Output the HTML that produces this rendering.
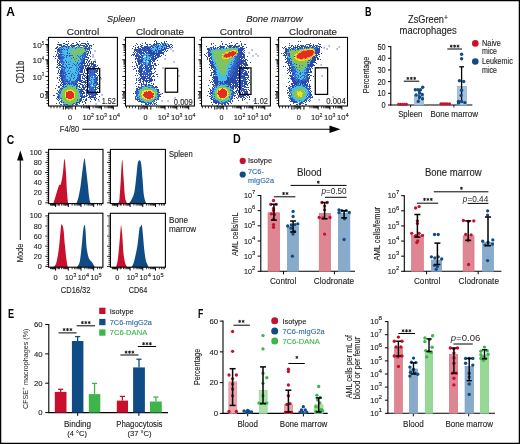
<!DOCTYPE html>
<html><head><meta charset="utf-8"><style>
html,body{margin:0;padding:0;background:#fff;}
body{width:520px;height:444px;overflow:hidden;}
svg{display:block;font-family:"Liberation Sans",sans-serif;}
</style></head><body>
<svg width="520" height="444" viewBox="0 0 520 444">
<rect x="0" y="0" width="520" height="444" fill="#fff"/>
<defs><filter id="soft" x="-5%" y="-5%" width="110%" height="110%"><feGaussianBlur stdDeviation="0.35"/></filter><filter id="f0" x="-40%" y="-40%" width="180%" height="180%" color-interpolation-filters="sRGB"><feGaussianBlur in="SourceAlpha" stdDeviation="2.0" result="B"/><feTurbulence type="fractalNoise" baseFrequency="1.1" numOctaves="1" seed="1" result="N"/><feColorMatrix in="N" type="matrix" values="0 0 0 0 0 0 0 0 0 0 0 0 0 0 0 2.9 0 0 0 -0.900" result="NA"/><feComposite in="B" in2="NA" operator="arithmetic" k1="0" k2="1.1" k3="-1" k4="0.49" result="S"/><feComponentTransfer in="S" result="M"><feFuncA type="discrete" tableValues="0 1"/></feComponentTransfer><feFlood flood-color="#2c48aa"/><feComposite in2="M" operator="in"/></filter><filter id="f1" x="-40%" y="-40%" width="180%" height="180%" color-interpolation-filters="sRGB"><feGaussianBlur in="SourceAlpha" stdDeviation="1.5" result="B"/><feTurbulence type="fractalNoise" baseFrequency="1.0" numOctaves="1" seed="21" result="N"/><feColorMatrix in="N" type="matrix" values="0 0 0 0 0 0 0 0 0 0 0 0 0 0 0 2.9 0 0 0 -0.900" result="NA"/><feComposite in="B" in2="NA" operator="arithmetic" k1="0" k2="0.9" k3="-1" k4="0.49" result="S"/><feComponentTransfer in="S" result="M"><feFuncA type="discrete" tableValues="0 1"/></feComponentTransfer><feFlood flood-color="#2c48aa"/><feComposite in2="M" operator="in"/></filter><filter id="f2" x="-40%" y="-40%" width="180%" height="180%" color-interpolation-filters="sRGB"><feGaussianBlur in="SourceAlpha" stdDeviation="1.5" result="B"/><feTurbulence type="fractalNoise" baseFrequency="1.0" numOctaves="1" seed="22" result="N"/><feColorMatrix in="N" type="matrix" values="0 0 0 0 0 0 0 0 0 0 0 0 0 0 0 2.9 0 0 0 -0.900" result="NA"/><feComposite in="B" in2="NA" operator="arithmetic" k1="0" k2="0.6" k3="-1" k4="0.49" result="S"/><feComponentTransfer in="S" result="M"><feFuncA type="discrete" tableValues="0 1"/></feComponentTransfer><feFlood flood-color="#2c48aa"/><feComposite in2="M" operator="in"/></filter><filter id="f3" x="-40%" y="-40%" width="180%" height="180%" color-interpolation-filters="sRGB"><feGaussianBlur in="SourceAlpha" stdDeviation="1.4" result="B"/><feTurbulence type="fractalNoise" baseFrequency="1.1" numOctaves="1" seed="2" result="N"/><feColorMatrix in="N" type="matrix" values="0 0 0 0 0 0 0 0 0 0 0 0 0 0 0 2.9 0 0 0 -0.900" result="NA"/><feComposite in="B" in2="NA" operator="arithmetic" k1="0" k2="0.85" k3="-1" k4="0.49" result="S"/><feComponentTransfer in="S" result="M"><feFuncA type="discrete" tableValues="0 1"/></feComponentTransfer><feFlood flood-color="#3568cc"/><feComposite in2="M" operator="in"/></filter><filter id="f4" x="-40%" y="-40%" width="180%" height="180%" color-interpolation-filters="sRGB"><feGaussianBlur in="SourceAlpha" stdDeviation="1.2" result="B"/><feTurbulence type="fractalNoise" baseFrequency="1.1" numOctaves="1" seed="3" result="N"/><feColorMatrix in="N" type="matrix" values="0 0 0 0 0 0 0 0 0 0 0 0 0 0 0 2.9 0 0 0 -0.900" result="NA"/><feComposite in="B" in2="NA" operator="arithmetic" k1="0" k2="0.82" k3="-1" k4="0.49" result="S"/><feComponentTransfer in="S" result="M"><feFuncA type="discrete" tableValues="0 1"/></feComponentTransfer><feFlood flood-color="#48bce8"/><feComposite in2="M" operator="in"/></filter><filter id="f5" x="-40%" y="-40%" width="180%" height="180%" color-interpolation-filters="sRGB"><feGaussianBlur in="SourceAlpha" stdDeviation="1.0" result="B"/><feTurbulence type="fractalNoise" baseFrequency="1.1" numOctaves="1" seed="33" result="N"/><feColorMatrix in="N" type="matrix" values="0 0 0 0 0 0 0 0 0 0 0 0 0 0 0 2.9 0 0 0 -0.900" result="NA"/><feComposite in="B" in2="NA" operator="arithmetic" k1="0" k2="1.1" k3="-1" k4="0.49" result="S"/><feComponentTransfer in="S" result="M"><feFuncA type="discrete" tableValues="0 1"/></feComponentTransfer><feFlood flood-color="#48bce8"/><feComposite in2="M" operator="in"/></filter><filter id="f6" x="-40%" y="-40%" width="180%" height="180%" color-interpolation-filters="sRGB"><feGaussianBlur in="SourceAlpha" stdDeviation="1.0" result="B"/><feTurbulence type="fractalNoise" baseFrequency="1.1" numOctaves="1" seed="4" result="N"/><feColorMatrix in="N" type="matrix" values="0 0 0 0 0 0 0 0 0 0 0 0 0 0 0 2.9 0 0 0 -0.900" result="NA"/><feComposite in="B" in2="NA" operator="arithmetic" k1="0" k2="0.8" k3="-1" k4="0.49" result="S"/><feComponentTransfer in="S" result="M"><feFuncA type="discrete" tableValues="0 1"/></feComponentTransfer><feFlood flood-color="#86c64a"/><feComposite in2="M" operator="in"/></filter><filter id="f7" x="-40%" y="-40%" width="180%" height="180%" color-interpolation-filters="sRGB"><feGaussianBlur in="SourceAlpha" stdDeviation="0.8" result="B"/><feTurbulence type="fractalNoise" baseFrequency="1.1" numOctaves="1" seed="34" result="N"/><feColorMatrix in="N" type="matrix" values="0 0 0 0 0 0 0 0 0 0 0 0 0 0 0 2.9 0 0 0 -0.900" result="NA"/><feComposite in="B" in2="NA" operator="arithmetic" k1="0" k2="1.1" k3="-1" k4="0.49" result="S"/><feComponentTransfer in="S" result="M"><feFuncA type="discrete" tableValues="0 1"/></feComponentTransfer><feFlood flood-color="#86c64a"/><feComposite in2="M" operator="in"/></filter><filter id="f8" x="-40%" y="-40%" width="180%" height="180%" color-interpolation-filters="sRGB"><feGaussianBlur in="SourceAlpha" stdDeviation="0.6" result="B"/><feTurbulence type="fractalNoise" baseFrequency="1.1" numOctaves="1" seed="35" result="N"/><feColorMatrix in="N" type="matrix" values="0 0 0 0 0 0 0 0 0 0 0 0 0 0 0 2.9 0 0 0 -0.900" result="NA"/><feComposite in="B" in2="NA" operator="arithmetic" k1="0" k2="1.1" k3="-1" k4="0.49" result="S"/><feComponentTransfer in="S" result="M"><feFuncA type="discrete" tableValues="0 1"/></feComponentTransfer><feFlood flood-color="#ece12a"/><feComposite in2="M" operator="in"/></filter><filter id="f9" x="-40%" y="-40%" width="180%" height="180%" color-interpolation-filters="sRGB"><feGaussianBlur in="SourceAlpha" stdDeviation="0.6" result="B"/><feTurbulence type="fractalNoise" baseFrequency="1.1" numOctaves="1" seed="36" result="N"/><feColorMatrix in="N" type="matrix" values="0 0 0 0 0 0 0 0 0 0 0 0 0 0 0 2.9 0 0 0 -0.900" result="NA"/><feComposite in="B" in2="NA" operator="arithmetic" k1="0" k2="1.1" k3="-1" k4="0.49" result="S"/><feComponentTransfer in="S" result="M"><feFuncA type="discrete" tableValues="0 1"/></feComponentTransfer><feFlood flood-color="#e62a28"/><feComposite in2="M" operator="in"/></filter><filter id="f10" x="-40%" y="-40%" width="180%" height="180%" color-interpolation-filters="sRGB"><feGaussianBlur in="SourceAlpha" stdDeviation="2.0" result="B"/><feTurbulence type="fractalNoise" baseFrequency="1.1" numOctaves="1" seed="5" result="N"/><feColorMatrix in="N" type="matrix" values="0 0 0 0 0 0 0 0 0 0 0 0 0 0 0 2.9 0 0 0 -0.900" result="NA"/><feComposite in="B" in2="NA" operator="arithmetic" k1="0" k2="0.82" k3="-1" k4="0.49" result="S"/><feComponentTransfer in="S" result="M"><feFuncA type="discrete" tableValues="0 1"/></feComponentTransfer><feFlood flood-color="#2c48aa"/><feComposite in2="M" operator="in"/></filter><filter id="f11" x="-40%" y="-40%" width="180%" height="180%" color-interpolation-filters="sRGB"><feGaussianBlur in="SourceAlpha" stdDeviation="1.8" result="B"/><feTurbulence type="fractalNoise" baseFrequency="1.1" numOctaves="1" seed="25" result="N"/><feColorMatrix in="N" type="matrix" values="0 0 0 0 0 0 0 0 0 0 0 0 0 0 0 2.9 0 0 0 -0.900" result="NA"/><feComposite in="B" in2="NA" operator="arithmetic" k1="0" k2="1.1" k3="-1" k4="0.49" result="S"/><feComponentTransfer in="S" result="M"><feFuncA type="discrete" tableValues="0 1"/></feComponentTransfer><feFlood flood-color="#2c48aa"/><feComposite in2="M" operator="in"/></filter><filter id="f12" x="-40%" y="-40%" width="180%" height="180%" color-interpolation-filters="sRGB"><feGaussianBlur in="SourceAlpha" stdDeviation="1.4" result="B"/><feTurbulence type="fractalNoise" baseFrequency="1.1" numOctaves="1" seed="6" result="N"/><feColorMatrix in="N" type="matrix" values="0 0 0 0 0 0 0 0 0 0 0 0 0 0 0 2.9 0 0 0 -0.900" result="NA"/><feComposite in="B" in2="NA" operator="arithmetic" k1="0" k2="0.5" k3="-1" k4="0.49" result="S"/><feComponentTransfer in="S" result="M"><feFuncA type="discrete" tableValues="0 1"/></feComponentTransfer><feFlood flood-color="#3568cc"/><feComposite in2="M" operator="in"/></filter><filter id="f13" x="-40%" y="-40%" width="180%" height="180%" color-interpolation-filters="sRGB"><feGaussianBlur in="SourceAlpha" stdDeviation="1.5" result="B"/><feTurbulence type="fractalNoise" baseFrequency="1.1" numOctaves="1" seed="26" result="N"/><feColorMatrix in="N" type="matrix" values="0 0 0 0 0 0 0 0 0 0 0 0 0 0 0 2.9 0 0 0 -0.900" result="NA"/><feComposite in="B" in2="NA" operator="arithmetic" k1="0" k2="1.0" k3="-1" k4="0.49" result="S"/><feComponentTransfer in="S" result="M"><feFuncA type="discrete" tableValues="0 1"/></feComponentTransfer><feFlood flood-color="#2c48aa"/><feComposite in2="M" operator="in"/></filter><filter id="f14" x="-40%" y="-40%" width="180%" height="180%" color-interpolation-filters="sRGB"><feGaussianBlur in="SourceAlpha" stdDeviation="1.2" result="B"/><feTurbulence type="fractalNoise" baseFrequency="1.1" numOctaves="1" seed="7" result="N"/><feColorMatrix in="N" type="matrix" values="0 0 0 0 0 0 0 0 0 0 0 0 0 0 0 2.9 0 0 0 -0.900" result="NA"/><feComposite in="B" in2="NA" operator="arithmetic" k1="0" k2="0.7" k3="-1" k4="0.49" result="S"/><feComponentTransfer in="S" result="M"><feFuncA type="discrete" tableValues="0 1"/></feComponentTransfer><feFlood flood-color="#48bce8"/><feComposite in2="M" operator="in"/></filter><filter id="f15" x="-40%" y="-40%" width="180%" height="180%" color-interpolation-filters="sRGB"><feGaussianBlur in="SourceAlpha" stdDeviation="1.2" result="B"/><feTurbulence type="fractalNoise" baseFrequency="1.1" numOctaves="1" seed="36" result="N"/><feColorMatrix in="N" type="matrix" values="0 0 0 0 0 0 0 0 0 0 0 0 0 0 0 2.9 0 0 0 -0.900" result="NA"/><feComposite in="B" in2="NA" operator="arithmetic" k1="0" k2="1.1" k3="-1" k4="0.49" result="S"/><feComponentTransfer in="S" result="M"><feFuncA type="discrete" tableValues="0 1"/></feComponentTransfer><feFlood flood-color="#3568cc"/><feComposite in2="M" operator="in"/></filter><filter id="f16" x="-40%" y="-40%" width="180%" height="180%" color-interpolation-filters="sRGB"><feGaussianBlur in="SourceAlpha" stdDeviation="1.0" result="B"/><feTurbulence type="fractalNoise" baseFrequency="1.1" numOctaves="1" seed="37" result="N"/><feColorMatrix in="N" type="matrix" values="0 0 0 0 0 0 0 0 0 0 0 0 0 0 0 2.9 0 0 0 -0.900" result="NA"/><feComposite in="B" in2="NA" operator="arithmetic" k1="0" k2="1.1" k3="-1" k4="0.49" result="S"/><feComponentTransfer in="S" result="M"><feFuncA type="discrete" tableValues="0 1"/></feComponentTransfer><feFlood flood-color="#48bce8"/><feComposite in2="M" operator="in"/></filter><filter id="f17" x="-40%" y="-40%" width="180%" height="180%" color-interpolation-filters="sRGB"><feGaussianBlur in="SourceAlpha" stdDeviation="0.8" result="B"/><feTurbulence type="fractalNoise" baseFrequency="1.1" numOctaves="1" seed="8" result="N"/><feColorMatrix in="N" type="matrix" values="0 0 0 0 0 0 0 0 0 0 0 0 0 0 0 2.9 0 0 0 -0.900" result="NA"/><feComposite in="B" in2="NA" operator="arithmetic" k1="0" k2="1.1" k3="-1" k4="0.49" result="S"/><feComponentTransfer in="S" result="M"><feFuncA type="discrete" tableValues="0 1"/></feComponentTransfer><feFlood flood-color="#86c64a"/><feComposite in2="M" operator="in"/></filter><filter id="f18" x="-40%" y="-40%" width="180%" height="180%" color-interpolation-filters="sRGB"><feGaussianBlur in="SourceAlpha" stdDeviation="0.6" result="B"/><feTurbulence type="fractalNoise" baseFrequency="1.1" numOctaves="1" seed="38" result="N"/><feColorMatrix in="N" type="matrix" values="0 0 0 0 0 0 0 0 0 0 0 0 0 0 0 2.9 0 0 0 -0.900" result="NA"/><feComposite in="B" in2="NA" operator="arithmetic" k1="0" k2="1.1" k3="-1" k4="0.49" result="S"/><feComponentTransfer in="S" result="M"><feFuncA type="discrete" tableValues="0 1"/></feComponentTransfer><feFlood flood-color="#ece12a"/><feComposite in2="M" operator="in"/></filter><filter id="f19" x="-40%" y="-40%" width="180%" height="180%" color-interpolation-filters="sRGB"><feGaussianBlur in="SourceAlpha" stdDeviation="0.6" result="B"/><feTurbulence type="fractalNoise" baseFrequency="1.1" numOctaves="1" seed="39" result="N"/><feColorMatrix in="N" type="matrix" values="0 0 0 0 0 0 0 0 0 0 0 0 0 0 0 2.9 0 0 0 -0.900" result="NA"/><feComposite in="B" in2="NA" operator="arithmetic" k1="0" k2="1.1" k3="-1" k4="0.49" result="S"/><feComponentTransfer in="S" result="M"><feFuncA type="discrete" tableValues="0 1"/></feComponentTransfer><feFlood flood-color="#e62a28"/><feComposite in2="M" operator="in"/></filter><filter id="f20" x="-40%" y="-40%" width="180%" height="180%" color-interpolation-filters="sRGB"><feGaussianBlur in="SourceAlpha" stdDeviation="2.0" result="B"/><feTurbulence type="fractalNoise" baseFrequency="1.1" numOctaves="1" seed="9" result="N"/><feColorMatrix in="N" type="matrix" values="0 0 0 0 0 0 0 0 0 0 0 0 0 0 0 2.9 0 0 0 -0.900" result="NA"/><feComposite in="B" in2="NA" operator="arithmetic" k1="0" k2="1.1" k3="-1" k4="0.49" result="S"/><feComponentTransfer in="S" result="M"><feFuncA type="discrete" tableValues="0 1"/></feComponentTransfer><feFlood flood-color="#2c48aa"/><feComposite in2="M" operator="in"/></filter><filter id="f21" x="-40%" y="-40%" width="180%" height="180%" color-interpolation-filters="sRGB"><feGaussianBlur in="SourceAlpha" stdDeviation="1.6" result="B"/><feTurbulence type="fractalNoise" baseFrequency="0.9" numOctaves="1" seed="10" result="N"/><feColorMatrix in="N" type="matrix" values="0 0 0 0 0 0 0 0 0 0 0 0 0 0 0 2.9 0 0 0 -0.900" result="NA"/><feComposite in="B" in2="NA" operator="arithmetic" k1="0" k2="0.8" k3="-1" k4="0.49" result="S"/><feComponentTransfer in="S" result="M"><feFuncA type="discrete" tableValues="0 1"/></feComponentTransfer><feFlood flood-color="#2c48aa"/><feComposite in2="M" operator="in"/></filter><filter id="f22" x="-40%" y="-40%" width="180%" height="180%" color-interpolation-filters="sRGB"><feGaussianBlur in="SourceAlpha" stdDeviation="1.4" result="B"/><feTurbulence type="fractalNoise" baseFrequency="0.9" numOctaves="1" seed="19" result="N"/><feColorMatrix in="N" type="matrix" values="0 0 0 0 0 0 0 0 0 0 0 0 0 0 0 2.9 0 0 0 -0.900" result="NA"/><feComposite in="B" in2="NA" operator="arithmetic" k1="0" k2="0.4" k3="-1" k4="0.49" result="S"/><feComponentTransfer in="S" result="M"><feFuncA type="discrete" tableValues="0 1"/></feComponentTransfer><feFlood flood-color="#3568cc"/><feComposite in2="M" operator="in"/></filter><filter id="f23" x="-40%" y="-40%" width="180%" height="180%" color-interpolation-filters="sRGB"><feGaussianBlur in="SourceAlpha" stdDeviation="1.4" result="B"/><feTurbulence type="fractalNoise" baseFrequency="1.1" numOctaves="1" seed="40" result="N"/><feColorMatrix in="N" type="matrix" values="0 0 0 0 0 0 0 0 0 0 0 0 0 0 0 2.9 0 0 0 -0.900" result="NA"/><feComposite in="B" in2="NA" operator="arithmetic" k1="0" k2="1.1" k3="-1" k4="0.49" result="S"/><feComponentTransfer in="S" result="M"><feFuncA type="discrete" tableValues="0 1"/></feComponentTransfer><feFlood flood-color="#3568cc"/><feComposite in2="M" operator="in"/></filter><filter id="f24" x="-40%" y="-40%" width="180%" height="180%" color-interpolation-filters="sRGB"><feGaussianBlur in="SourceAlpha" stdDeviation="1.2" result="B"/><feTurbulence type="fractalNoise" baseFrequency="1.1" numOctaves="1" seed="11" result="N"/><feColorMatrix in="N" type="matrix" values="0 0 0 0 0 0 0 0 0 0 0 0 0 0 0 2.9 0 0 0 -0.900" result="NA"/><feComposite in="B" in2="NA" operator="arithmetic" k1="0" k2="1.1" k3="-1" k4="0.49" result="S"/><feComponentTransfer in="S" result="M"><feFuncA type="discrete" tableValues="0 1"/></feComponentTransfer><feFlood flood-color="#48bce8"/><feComposite in2="M" operator="in"/></filter><filter id="f25" x="-40%" y="-40%" width="180%" height="180%" color-interpolation-filters="sRGB"><feGaussianBlur in="SourceAlpha" stdDeviation="0.9" result="B"/><feTurbulence type="fractalNoise" baseFrequency="1.1" numOctaves="1" seed="12" result="N"/><feColorMatrix in="N" type="matrix" values="0 0 0 0 0 0 0 0 0 0 0 0 0 0 0 2.9 0 0 0 -0.900" result="NA"/><feComposite in="B" in2="NA" operator="arithmetic" k1="0" k2="0.9" k3="-1" k4="0.49" result="S"/><feComponentTransfer in="S" result="M"><feFuncA type="discrete" tableValues="0 1"/></feComponentTransfer><feFlood flood-color="#86c64a"/><feComposite in2="M" operator="in"/></filter><filter id="f26" x="-40%" y="-40%" width="180%" height="180%" color-interpolation-filters="sRGB"><feGaussianBlur in="SourceAlpha" stdDeviation="0.9" result="B"/><feTurbulence type="fractalNoise" baseFrequency="1.1" numOctaves="1" seed="49" result="N"/><feColorMatrix in="N" type="matrix" values="0 0 0 0 0 0 0 0 0 0 0 0 0 0 0 2.9 0 0 0 -0.900" result="NA"/><feComposite in="B" in2="NA" operator="arithmetic" k1="0" k2="1.1" k3="-1" k4="0.49" result="S"/><feComponentTransfer in="S" result="M"><feFuncA type="discrete" tableValues="0 1"/></feComponentTransfer><feFlood flood-color="#86c64a"/><feComposite in2="M" operator="in"/></filter><filter id="f27" x="-40%" y="-40%" width="180%" height="180%" color-interpolation-filters="sRGB"><feGaussianBlur in="SourceAlpha" stdDeviation="0.7" result="B"/><feTurbulence type="fractalNoise" baseFrequency="1.1" numOctaves="1" seed="41" result="N"/><feColorMatrix in="N" type="matrix" values="0 0 0 0 0 0 0 0 0 0 0 0 0 0 0 2.9 0 0 0 -0.900" result="NA"/><feComposite in="B" in2="NA" operator="arithmetic" k1="0" k2="1.1" k3="-1" k4="0.49" result="S"/><feComponentTransfer in="S" result="M"><feFuncA type="discrete" tableValues="0 1"/></feComponentTransfer><feFlood flood-color="#ece12a"/><feComposite in2="M" operator="in"/></filter><filter id="f28" x="-40%" y="-40%" width="180%" height="180%" color-interpolation-filters="sRGB"><feGaussianBlur in="SourceAlpha" stdDeviation="0.6" result="B"/><feTurbulence type="fractalNoise" baseFrequency="1.1" numOctaves="1" seed="42" result="N"/><feColorMatrix in="N" type="matrix" values="0 0 0 0 0 0 0 0 0 0 0 0 0 0 0 2.9 0 0 0 -0.900" result="NA"/><feComposite in="B" in2="NA" operator="arithmetic" k1="0" k2="1.1" k3="-1" k4="0.49" result="S"/><feComponentTransfer in="S" result="M"><feFuncA type="discrete" tableValues="0 1"/></feComponentTransfer><feFlood flood-color="#f39a22"/><feComposite in2="M" operator="in"/></filter><filter id="f29" x="-40%" y="-40%" width="180%" height="180%" color-interpolation-filters="sRGB"><feGaussianBlur in="SourceAlpha" stdDeviation="0.6" result="B"/><feTurbulence type="fractalNoise" baseFrequency="1.1" numOctaves="1" seed="43" result="N"/><feColorMatrix in="N" type="matrix" values="0 0 0 0 0 0 0 0 0 0 0 0 0 0 0 2.9 0 0 0 -0.900" result="NA"/><feComposite in="B" in2="NA" operator="arithmetic" k1="0" k2="1.1" k3="-1" k4="0.49" result="S"/><feComponentTransfer in="S" result="M"><feFuncA type="discrete" tableValues="0 1"/></feComponentTransfer><feFlood flood-color="#e62a28"/><feComposite in2="M" operator="in"/></filter><filter id="f30" x="-40%" y="-40%" width="180%" height="180%" color-interpolation-filters="sRGB"><feGaussianBlur in="SourceAlpha" stdDeviation="2.0" result="B"/><feTurbulence type="fractalNoise" baseFrequency="1.1" numOctaves="1" seed="13" result="N"/><feColorMatrix in="N" type="matrix" values="0 0 0 0 0 0 0 0 0 0 0 0 0 0 0 2.9 0 0 0 -0.900" result="NA"/><feComposite in="B" in2="NA" operator="arithmetic" k1="0" k2="1.1" k3="-1" k4="0.49" result="S"/><feComponentTransfer in="S" result="M"><feFuncA type="discrete" tableValues="0 1"/></feComponentTransfer><feFlood flood-color="#2c48aa"/><feComposite in2="M" operator="in"/></filter><filter id="f31" x="-40%" y="-40%" width="180%" height="180%" color-interpolation-filters="sRGB"><feGaussianBlur in="SourceAlpha" stdDeviation="1.4" result="B"/><feTurbulence type="fractalNoise" baseFrequency="1.1" numOctaves="1" seed="14" result="N"/><feColorMatrix in="N" type="matrix" values="0 0 0 0 0 0 0 0 0 0 0 0 0 0 0 2.9 0 0 0 -0.900" result="NA"/><feComposite in="B" in2="NA" operator="arithmetic" k1="0" k2="0.9" k3="-1" k4="0.49" result="S"/><feComponentTransfer in="S" result="M"><feFuncA type="discrete" tableValues="0 1"/></feComponentTransfer><feFlood flood-color="#3568cc"/><feComposite in2="M" operator="in"/></filter><filter id="f32" x="-40%" y="-40%" width="180%" height="180%" color-interpolation-filters="sRGB"><feGaussianBlur in="SourceAlpha" stdDeviation="1.2" result="B"/><feTurbulence type="fractalNoise" baseFrequency="1.1" numOctaves="1" seed="15" result="N"/><feColorMatrix in="N" type="matrix" values="0 0 0 0 0 0 0 0 0 0 0 0 0 0 0 2.9 0 0 0 -0.900" result="NA"/><feComposite in="B" in2="NA" operator="arithmetic" k1="0" k2="0.7" k3="-1" k4="0.49" result="S"/><feComponentTransfer in="S" result="M"><feFuncA type="discrete" tableValues="0 1"/></feComponentTransfer><feFlood flood-color="#48bce8"/><feComposite in2="M" operator="in"/></filter><filter id="f33" x="-40%" y="-40%" width="180%" height="180%" color-interpolation-filters="sRGB"><feGaussianBlur in="SourceAlpha" stdDeviation="1.2" result="B"/><feTurbulence type="fractalNoise" baseFrequency="1.1" numOctaves="1" seed="47" result="N"/><feColorMatrix in="N" type="matrix" values="0 0 0 0 0 0 0 0 0 0 0 0 0 0 0 2.9 0 0 0 -0.900" result="NA"/><feComposite in="B" in2="NA" operator="arithmetic" k1="0" k2="1.1" k3="-1" k4="0.49" result="S"/><feComponentTransfer in="S" result="M"><feFuncA type="discrete" tableValues="0 1"/></feComponentTransfer><feFlood flood-color="#48bce8"/><feComposite in2="M" operator="in"/></filter><filter id="f34" x="-40%" y="-40%" width="180%" height="180%" color-interpolation-filters="sRGB"><feGaussianBlur in="SourceAlpha" stdDeviation="1.0" result="B"/><feTurbulence type="fractalNoise" baseFrequency="1.1" numOctaves="1" seed="16" result="N"/><feColorMatrix in="N" type="matrix" values="0 0 0 0 0 0 0 0 0 0 0 0 0 0 0 2.9 0 0 0 -0.900" result="NA"/><feComposite in="B" in2="NA" operator="arithmetic" k1="0" k2="0.95" k3="-1" k4="0.49" result="S"/><feComponentTransfer in="S" result="M"><feFuncA type="discrete" tableValues="0 1"/></feComponentTransfer><feFlood flood-color="#86c64a"/><feComposite in2="M" operator="in"/></filter><filter id="f35" x="-40%" y="-40%" width="180%" height="180%" color-interpolation-filters="sRGB"><feGaussianBlur in="SourceAlpha" stdDeviation="0.9" result="B"/><feTurbulence type="fractalNoise" baseFrequency="1.1" numOctaves="1" seed="48" result="N"/><feColorMatrix in="N" type="matrix" values="0 0 0 0 0 0 0 0 0 0 0 0 0 0 0 2.9 0 0 0 -0.900" result="NA"/><feComposite in="B" in2="NA" operator="arithmetic" k1="0" k2="1.1" k3="-1" k4="0.49" result="S"/><feComponentTransfer in="S" result="M"><feFuncA type="discrete" tableValues="0 1"/></feComponentTransfer><feFlood flood-color="#86c64a"/><feComposite in2="M" operator="in"/></filter><filter id="f36" x="-40%" y="-40%" width="180%" height="180%" color-interpolation-filters="sRGB"><feGaussianBlur in="SourceAlpha" stdDeviation="0.7" result="B"/><feTurbulence type="fractalNoise" baseFrequency="1.1" numOctaves="1" seed="44" result="N"/><feColorMatrix in="N" type="matrix" values="0 0 0 0 0 0 0 0 0 0 0 0 0 0 0 2.9 0 0 0 -0.900" result="NA"/><feComposite in="B" in2="NA" operator="arithmetic" k1="0" k2="1.1" k3="-1" k4="0.49" result="S"/><feComponentTransfer in="S" result="M"><feFuncA type="discrete" tableValues="0 1"/></feComponentTransfer><feFlood flood-color="#ece12a"/><feComposite in2="M" operator="in"/></filter><filter id="f37" x="-40%" y="-40%" width="180%" height="180%" color-interpolation-filters="sRGB"><feGaussianBlur in="SourceAlpha" stdDeviation="0.6" result="B"/><feTurbulence type="fractalNoise" baseFrequency="1.1" numOctaves="1" seed="45" result="N"/><feColorMatrix in="N" type="matrix" values="0 0 0 0 0 0 0 0 0 0 0 0 0 0 0 2.9 0 0 0 -0.900" result="NA"/><feComposite in="B" in2="NA" operator="arithmetic" k1="0" k2="1.1" k3="-1" k4="0.49" result="S"/><feComponentTransfer in="S" result="M"><feFuncA type="discrete" tableValues="0 1"/></feComponentTransfer><feFlood flood-color="#f39a22"/><feComposite in2="M" operator="in"/></filter><filter id="f38" x="-40%" y="-40%" width="180%" height="180%" color-interpolation-filters="sRGB"><feGaussianBlur in="SourceAlpha" stdDeviation="0.6" result="B"/><feTurbulence type="fractalNoise" baseFrequency="1.1" numOctaves="1" seed="46" result="N"/><feColorMatrix in="N" type="matrix" values="0 0 0 0 0 0 0 0 0 0 0 0 0 0 0 2.9 0 0 0 -0.900" result="NA"/><feComposite in="B" in2="NA" operator="arithmetic" k1="0" k2="1.1" k3="-1" k4="0.49" result="S"/><feComponentTransfer in="S" result="M"><feFuncA type="discrete" tableValues="0 1"/></feComponentTransfer><feFlood flood-color="#e62a28"/><feComposite in2="M" operator="in"/></filter></defs>
<g opacity="0.999">
<text x="0" y="0" font-size="12.3" font-weight="bold" fill="#000" transform="translate(6.30,15.80) scale(0.971,1)">A</text>
<text x="121.20" y="22.40" font-size="9.6" fill="#231f20" stroke="#231f20" stroke-width="0.13" text-anchor="middle" font-style="italic" textLength="28.20" lengthAdjust="spacingAndGlyphs">Spleen</text>
<text x="274.40" y="22.40" font-size="9.6" fill="#231f20" stroke="#231f20" stroke-width="0.13" text-anchor="middle" font-style="italic" textLength="56.50" lengthAdjust="spacingAndGlyphs">Bone marrow</text>
<text x="82.95" y="35.20" font-size="9.8" fill="#231f20" stroke="#231f20" stroke-width="0.13" text-anchor="middle" textLength="32.50" lengthAdjust="spacingAndGlyphs">Control</text>
<clipPath id="cp0"><rect x="49.0" y="37.9" width="67.9" height="67.6"/></clipPath><g clip-path="url(#cp0)"><g transform="translate(48.5,37.4)"><g filter="url(#soft)"><g filter="url(#f0)"><polygon points="8.0,7.6 42.5,6.8 43.0,12.0 40.0,18.0 36.0,25.0 33.0,35.0 31.0,47.0 12.0,47.0 11.0,31.0 7.5,11.0"/><ellipse cx="21.5" cy="57.6" rx="12.3" ry="11.2"/></g><g filter="url(#f1)"><polygon points="38.5,24.0 48.0,24.0 49.2,33.0 49.2,59.0 46.0,62.0 38.5,60.0"/></g><g filter="url(#f2)"><polygon points="31.0,22.0 39.0,22.0 39.0,62.0 30.0,64.0 29.0,45.0"/><polygon points="28.0,52.0 38.0,56.0 40.0,66.0 28.0,67.0"/></g><g filter="url(#f3)"><polygon points="10.0,10.0 40.0,9.0 36.0,20.0 31.0,35.0 28.0,46.0 15.0,46.0 13.0,30.0"/><polygon points="40.0,30.0 47.5,30.0 47.5,57.0 40.0,57.0"/><ellipse cx="21.5" cy="57.6" rx="11.0" ry="10.6"/></g><g filter="url(#f4)"><polygon points="13.0,10.5 38.0,9.5 34.0,20.0 30.0,32.0 27.0,44.0 18.0,44.0 15.0,28.0"/><ellipse cx="44" cy="45" rx="2.5" ry="6"/></g><g filter="url(#f5)"><ellipse cx="21.5" cy="57.6" rx="10.3" ry="10.2"/></g><g filter="url(#f6)"><ellipse cx="30" cy="13.6" rx="8.5" ry="3.3"/><ellipse cx="26" cy="20" rx="3" ry="4"/></g><g filter="url(#f7)"><ellipse cx="21.5" cy="57.6" rx="9.0" ry="9.0"/></g><g filter="url(#f8)"><ellipse cx="21.5" cy="57.6" rx="5.4" ry="5.4"/></g><g filter="url(#f9)"><ellipse cx="21.5" cy="57.6" rx="4.1" ry="4.0"/></g><rect x="46.0" y="13.0" width="1.1" height="1.1" fill="#2c48aa"/><rect x="44.0" y="17.0" width="1.1" height="1.1" fill="#2c48aa"/><rect x="52.0" y="41.0" width="1.1" height="1.1" fill="#2c48aa"/><rect x="53.0" y="57.0" width="1.1" height="1.1" fill="#2c48aa"/><rect x="47.0" y="66.0" width="1.1" height="1.1" fill="#2c48aa"/><rect x="50.0" y="63.0" width="1.1" height="1.1" fill="#2c48aa"/><rect x="44.0" y="19.0" width="1.1" height="1.1" fill="#2c48aa"/><rect x="36.0" y="68.0" width="1.1" height="1.1" fill="#2c48aa"/><rect x="41.0" y="10.0" width="1.1" height="1.1" fill="#2c48aa"/><rect x="46.0" y="22.0" width="1.1" height="1.1" fill="#2c48aa"/></g></g></g>
<rect x="48.50" y="37.40" width="68.90" height="68.60" fill="none" stroke="#000" stroke-width="1.1"/>
<rect x="87.50" y="68.70" width="12.20" height="23.70" fill="none" stroke="#000" stroke-width="1.25"/>
<text x="115.90" y="104.10" font-size="8.3" fill="#2a2a2a" stroke="#2a2a2a" stroke-width="0.13" text-anchor="end" textLength="14.10" lengthAdjust="spacingAndGlyphs">1.52</text>
<line x1="45.30" y1="44.50" x2="48.50" y2="44.50" stroke="#000" stroke-width="1.0"/>
<line x1="45.30" y1="59.80" x2="48.50" y2="59.80" stroke="#000" stroke-width="1.0"/>
<line x1="45.30" y1="76.40" x2="48.50" y2="76.40" stroke="#000" stroke-width="1.0"/>
<line x1="46.50" y1="39.89" x2="48.50" y2="39.89" stroke="#000" stroke-width="0.8"/>
<line x1="46.50" y1="55.19" x2="48.50" y2="55.19" stroke="#000" stroke-width="0.8"/>
<line x1="46.50" y1="52.50" x2="48.50" y2="52.50" stroke="#000" stroke-width="0.8"/>
<line x1="46.50" y1="50.59" x2="48.50" y2="50.59" stroke="#000" stroke-width="0.8"/>
<line x1="46.50" y1="49.11" x2="48.50" y2="49.11" stroke="#000" stroke-width="0.8"/>
<line x1="46.50" y1="47.89" x2="48.50" y2="47.89" stroke="#000" stroke-width="0.8"/>
<line x1="46.50" y1="46.87" x2="48.50" y2="46.87" stroke="#000" stroke-width="0.8"/>
<line x1="46.50" y1="45.98" x2="48.50" y2="45.98" stroke="#000" stroke-width="0.8"/>
<line x1="46.50" y1="45.20" x2="48.50" y2="45.20" stroke="#000" stroke-width="0.8"/>
<line x1="46.50" y1="71.40" x2="48.50" y2="71.40" stroke="#000" stroke-width="0.8"/>
<line x1="46.50" y1="68.48" x2="48.50" y2="68.48" stroke="#000" stroke-width="0.8"/>
<line x1="46.50" y1="66.41" x2="48.50" y2="66.41" stroke="#000" stroke-width="0.8"/>
<line x1="46.50" y1="64.80" x2="48.50" y2="64.80" stroke="#000" stroke-width="0.8"/>
<line x1="46.50" y1="63.48" x2="48.50" y2="63.48" stroke="#000" stroke-width="0.8"/>
<line x1="46.50" y1="62.37" x2="48.50" y2="62.37" stroke="#000" stroke-width="0.8"/>
<line x1="46.50" y1="61.41" x2="48.50" y2="61.41" stroke="#000" stroke-width="0.8"/>
<line x1="46.50" y1="60.56" x2="48.50" y2="60.56" stroke="#000" stroke-width="0.8"/>
<line x1="46.50" y1="80.50" x2="48.50" y2="80.50" stroke="#000" stroke-width="0.8"/>
<line x1="46.50" y1="84.50" x2="48.50" y2="84.50" stroke="#000" stroke-width="0.8"/>
<line x1="46.50" y1="87.80" x2="48.50" y2="87.80" stroke="#000" stroke-width="0.8"/>
<line x1="46.50" y1="100.50" x2="48.50" y2="100.50" stroke="#000" stroke-width="0.8"/>
<line x1="46.50" y1="103.50" x2="48.50" y2="103.50" stroke="#000" stroke-width="0.8"/>
<line x1="44.90" y1="91.50" x2="48.50" y2="91.50" stroke="#000" stroke-width="0.85"/>
<line x1="45.90" y1="92.60" x2="48.50" y2="92.60" stroke="#000" stroke-width="0.85"/>
<line x1="45.90" y1="93.70" x2="48.50" y2="93.70" stroke="#000" stroke-width="0.85"/>
<line x1="44.90" y1="94.80" x2="48.50" y2="94.80" stroke="#000" stroke-width="0.85"/>
<line x1="45.90" y1="95.90" x2="48.50" y2="95.90" stroke="#000" stroke-width="0.85"/>
<line x1="45.90" y1="97.00" x2="48.50" y2="97.00" stroke="#000" stroke-width="0.85"/>
<line x1="44.90" y1="98.10" x2="48.50" y2="98.10" stroke="#000" stroke-width="0.85"/>
<line x1="63.30" y1="106.00" x2="63.30" y2="109.60" stroke="#000" stroke-width="1.0"/>
<line x1="75.40" y1="106.00" x2="75.40" y2="109.60" stroke="#000" stroke-width="1.0"/>
<line x1="89.60" y1="106.00" x2="89.60" y2="109.60" stroke="#000" stroke-width="1.0"/>
<line x1="101.40" y1="106.00" x2="101.40" y2="109.60" stroke="#000" stroke-width="1.0"/>
<line x1="113.30" y1="106.00" x2="113.30" y2="109.60" stroke="#000" stroke-width="1.0"/>
<line x1="81.35" y1="106.00" x2="81.35" y2="108.30" stroke="#000" stroke-width="0.8"/>
<line x1="83.43" y1="106.00" x2="83.43" y2="108.30" stroke="#000" stroke-width="0.8"/>
<line x1="84.90" y1="106.00" x2="84.90" y2="108.30" stroke="#000" stroke-width="0.8"/>
<line x1="86.05" y1="106.00" x2="86.05" y2="108.30" stroke="#000" stroke-width="0.8"/>
<line x1="86.98" y1="106.00" x2="86.98" y2="108.30" stroke="#000" stroke-width="0.8"/>
<line x1="87.77" y1="106.00" x2="87.77" y2="108.30" stroke="#000" stroke-width="0.8"/>
<line x1="88.46" y1="106.00" x2="88.46" y2="108.30" stroke="#000" stroke-width="0.8"/>
<line x1="89.06" y1="106.00" x2="89.06" y2="108.30" stroke="#000" stroke-width="0.8"/>
<line x1="93.15" y1="106.00" x2="93.15" y2="108.30" stroke="#000" stroke-width="0.8"/>
<line x1="95.23" y1="106.00" x2="95.23" y2="108.30" stroke="#000" stroke-width="0.8"/>
<line x1="96.70" y1="106.00" x2="96.70" y2="108.30" stroke="#000" stroke-width="0.8"/>
<line x1="97.85" y1="106.00" x2="97.85" y2="108.30" stroke="#000" stroke-width="0.8"/>
<line x1="98.78" y1="106.00" x2="98.78" y2="108.30" stroke="#000" stroke-width="0.8"/>
<line x1="99.57" y1="106.00" x2="99.57" y2="108.30" stroke="#000" stroke-width="0.8"/>
<line x1="100.26" y1="106.00" x2="100.26" y2="108.30" stroke="#000" stroke-width="0.8"/>
<line x1="100.86" y1="106.00" x2="100.86" y2="108.30" stroke="#000" stroke-width="0.8"/>
<line x1="104.98" y1="106.00" x2="104.98" y2="108.30" stroke="#000" stroke-width="0.8"/>
<line x1="107.08" y1="106.00" x2="107.08" y2="108.30" stroke="#000" stroke-width="0.8"/>
<line x1="108.56" y1="106.00" x2="108.56" y2="108.30" stroke="#000" stroke-width="0.8"/>
<line x1="109.72" y1="106.00" x2="109.72" y2="108.30" stroke="#000" stroke-width="0.8"/>
<line x1="110.66" y1="106.00" x2="110.66" y2="108.30" stroke="#000" stroke-width="0.8"/>
<line x1="111.46" y1="106.00" x2="111.46" y2="108.30" stroke="#000" stroke-width="0.8"/>
<line x1="112.15" y1="106.00" x2="112.15" y2="108.30" stroke="#000" stroke-width="0.8"/>
<line x1="112.76" y1="106.00" x2="112.76" y2="108.30" stroke="#000" stroke-width="0.8"/>
<line x1="51.00" y1="106.00" x2="51.00" y2="108.30" stroke="#000" stroke-width="0.8"/>
<line x1="54.00" y1="106.00" x2="54.00" y2="108.30" stroke="#000" stroke-width="0.8"/>
<line x1="57.00" y1="106.00" x2="57.00" y2="108.30" stroke="#000" stroke-width="0.8"/>
<line x1="60.00" y1="106.00" x2="60.00" y2="108.30" stroke="#000" stroke-width="0.8"/>
<line x1="65.50" y1="106.00" x2="65.50" y2="109.60" stroke="#000" stroke-width="0.85"/>
<line x1="66.60" y1="106.00" x2="66.60" y2="108.60" stroke="#000" stroke-width="0.85"/>
<line x1="67.70" y1="106.00" x2="67.70" y2="108.60" stroke="#000" stroke-width="0.85"/>
<line x1="68.80" y1="106.00" x2="68.80" y2="109.60" stroke="#000" stroke-width="0.85"/>
<line x1="69.90" y1="106.00" x2="69.90" y2="108.60" stroke="#000" stroke-width="0.85"/>
<line x1="71.00" y1="106.00" x2="71.00" y2="108.60" stroke="#000" stroke-width="0.85"/>
<line x1="72.10" y1="106.00" x2="72.10" y2="109.60" stroke="#000" stroke-width="0.85"/>
<text x="70.10" y="120.10" font-size="7.6" fill="#231f20" stroke="#231f20" stroke-width="0.13" text-anchor="middle" textLength="4.00" lengthAdjust="spacingAndGlyphs">0</text>
<text x="82.50" y="120.10" font-size="7.6" fill="#231f20" stroke="#231f20" stroke-width="0.13" textLength="8.50" lengthAdjust="spacingAndGlyphs">10</text>
<text x="91.10" y="116.50" font-size="5.2" fill="#231f20" stroke="#231f20" stroke-width="0.13" textLength="2.90" lengthAdjust="spacingAndGlyphs">2</text>
<text x="95.45" y="120.10" font-size="7.6" fill="#231f20" stroke="#231f20" stroke-width="0.13" textLength="8.50" lengthAdjust="spacingAndGlyphs">10</text>
<text x="104.05" y="116.50" font-size="5.2" fill="#231f20" stroke="#231f20" stroke-width="0.13" textLength="2.90" lengthAdjust="spacingAndGlyphs">3</text>
<text x="108.40" y="120.10" font-size="7.6" fill="#231f20" stroke="#231f20" stroke-width="0.13" textLength="8.50" lengthAdjust="spacingAndGlyphs">10</text>
<text x="117.00" y="116.50" font-size="5.2" fill="#231f20" stroke="#231f20" stroke-width="0.13" textLength="2.90" lengthAdjust="spacingAndGlyphs">4</text>
<text x="159.95" y="35.20" font-size="9.8" fill="#231f20" stroke="#231f20" stroke-width="0.13" text-anchor="middle" textLength="48.00" lengthAdjust="spacingAndGlyphs">Clodronate</text>
<clipPath id="cp1"><rect x="126.0" y="37.9" width="67.9" height="67.6"/></clipPath><g clip-path="url(#cp1)"><g transform="translate(125.5,37.4)"><g filter="url(#soft)"><g filter="url(#f10)"><polygon points="7.5,9.5 20.0,8.3 44.0,5.8 44.5,9.5 31.0,22.0 29.0,25.0 28.0,34.0 28.0,46.0 13.0,46.0 11.7,34.0 9.6,20.0"/></g><g filter="url(#f11)"><ellipse cx="22.2" cy="57.0" rx="12.4" ry="10.0"/></g><g filter="url(#f12)"><polygon points="11.0,11.0 25.0,9.5 40.0,7.5 32.0,15.0 26.0,22.0 25.0,40.0 16.0,40.0 13.0,26.0"/></g><g filter="url(#f13)"><polygon points="20.0,8.5 44.0,5.0 45.5,9.0 33.0,18.0 26.0,20.0"/></g><g filter="url(#f14)"><polygon points="24.0,9.3 43.5,6.0 41.0,10.0 32.0,15.0 25.0,14.0"/><ellipse cx="21" cy="22" rx="4" ry="6"/></g><g filter="url(#f15)"><ellipse cx="22.2" cy="57.0" rx="11.4" ry="9.0"/></g><g filter="url(#f16)"><ellipse cx="22.2" cy="57.0" rx="10.2" ry="8.0"/></g><g filter="url(#f17)"><ellipse cx="22.2" cy="57.0" rx="8.6" ry="6.6"/></g><g filter="url(#f18)"><ellipse cx="22.7" cy="57.3" rx="6.8" ry="5.1"/></g><g filter="url(#f19)"><ellipse cx="23.0" cy="57.4" rx="5.5" ry="3.9"/></g><rect x="45.0" y="11.0" width="1.1" height="1.1" fill="#2c48aa"/><rect x="47.0" y="13.0" width="1.1" height="1.1" fill="#2c48aa"/><rect x="48.0" y="24.0" width="1.1" height="1.1" fill="#2c48aa"/><rect x="52.0" y="33.0" width="1.1" height="1.1" fill="#2c48aa"/><rect x="53.0" y="38.0" width="1.1" height="1.1" fill="#2c48aa"/><rect x="37.0" y="30.0" width="1.1" height="1.1" fill="#2c48aa"/><rect x="35.0" y="56.0" width="1.1" height="1.1" fill="#2c48aa"/><rect x="36.0" y="63.0" width="1.1" height="1.1" fill="#2c48aa"/><rect x="42.0" y="63.0" width="1.1" height="1.1" fill="#2c48aa"/><rect x="49.0" y="60.0" width="1.1" height="1.1" fill="#2c48aa"/><rect x="55.0" y="62.0" width="1.1" height="1.1" fill="#2c48aa"/><rect x="39.0" y="21.0" width="1.1" height="1.1" fill="#2c48aa"/></g></g></g>
<rect x="125.50" y="37.40" width="68.90" height="68.60" fill="none" stroke="#000" stroke-width="1.1"/>
<rect x="165.20" y="68.30" width="12.40" height="23.90" fill="none" stroke="#000" stroke-width="1.25"/>
<text x="192.80" y="104.50" font-size="8.3" fill="#2a2a2a" stroke="#2a2a2a" stroke-width="0.13" text-anchor="end" textLength="19.00" lengthAdjust="spacingAndGlyphs">0.009</text>
<line x1="122.30" y1="44.50" x2="125.50" y2="44.50" stroke="#000" stroke-width="1.0"/>
<line x1="122.30" y1="59.80" x2="125.50" y2="59.80" stroke="#000" stroke-width="1.0"/>
<line x1="122.30" y1="76.40" x2="125.50" y2="76.40" stroke="#000" stroke-width="1.0"/>
<line x1="123.50" y1="39.89" x2="125.50" y2="39.89" stroke="#000" stroke-width="0.8"/>
<line x1="123.50" y1="55.19" x2="125.50" y2="55.19" stroke="#000" stroke-width="0.8"/>
<line x1="123.50" y1="52.50" x2="125.50" y2="52.50" stroke="#000" stroke-width="0.8"/>
<line x1="123.50" y1="50.59" x2="125.50" y2="50.59" stroke="#000" stroke-width="0.8"/>
<line x1="123.50" y1="49.11" x2="125.50" y2="49.11" stroke="#000" stroke-width="0.8"/>
<line x1="123.50" y1="47.89" x2="125.50" y2="47.89" stroke="#000" stroke-width="0.8"/>
<line x1="123.50" y1="46.87" x2="125.50" y2="46.87" stroke="#000" stroke-width="0.8"/>
<line x1="123.50" y1="45.98" x2="125.50" y2="45.98" stroke="#000" stroke-width="0.8"/>
<line x1="123.50" y1="45.20" x2="125.50" y2="45.20" stroke="#000" stroke-width="0.8"/>
<line x1="123.50" y1="71.40" x2="125.50" y2="71.40" stroke="#000" stroke-width="0.8"/>
<line x1="123.50" y1="68.48" x2="125.50" y2="68.48" stroke="#000" stroke-width="0.8"/>
<line x1="123.50" y1="66.41" x2="125.50" y2="66.41" stroke="#000" stroke-width="0.8"/>
<line x1="123.50" y1="64.80" x2="125.50" y2="64.80" stroke="#000" stroke-width="0.8"/>
<line x1="123.50" y1="63.48" x2="125.50" y2="63.48" stroke="#000" stroke-width="0.8"/>
<line x1="123.50" y1="62.37" x2="125.50" y2="62.37" stroke="#000" stroke-width="0.8"/>
<line x1="123.50" y1="61.41" x2="125.50" y2="61.41" stroke="#000" stroke-width="0.8"/>
<line x1="123.50" y1="60.56" x2="125.50" y2="60.56" stroke="#000" stroke-width="0.8"/>
<line x1="123.50" y1="80.50" x2="125.50" y2="80.50" stroke="#000" stroke-width="0.8"/>
<line x1="123.50" y1="84.50" x2="125.50" y2="84.50" stroke="#000" stroke-width="0.8"/>
<line x1="123.50" y1="87.80" x2="125.50" y2="87.80" stroke="#000" stroke-width="0.8"/>
<line x1="123.50" y1="100.50" x2="125.50" y2="100.50" stroke="#000" stroke-width="0.8"/>
<line x1="123.50" y1="103.50" x2="125.50" y2="103.50" stroke="#000" stroke-width="0.8"/>
<line x1="121.90" y1="91.50" x2="125.50" y2="91.50" stroke="#000" stroke-width="0.85"/>
<line x1="122.90" y1="92.60" x2="125.50" y2="92.60" stroke="#000" stroke-width="0.85"/>
<line x1="122.90" y1="93.70" x2="125.50" y2="93.70" stroke="#000" stroke-width="0.85"/>
<line x1="121.90" y1="94.80" x2="125.50" y2="94.80" stroke="#000" stroke-width="0.85"/>
<line x1="122.90" y1="95.90" x2="125.50" y2="95.90" stroke="#000" stroke-width="0.85"/>
<line x1="122.90" y1="97.00" x2="125.50" y2="97.00" stroke="#000" stroke-width="0.85"/>
<line x1="121.90" y1="98.10" x2="125.50" y2="98.10" stroke="#000" stroke-width="0.85"/>
<line x1="138.75" y1="106.00" x2="138.75" y2="109.60" stroke="#000" stroke-width="1.0"/>
<line x1="150.85" y1="106.00" x2="150.85" y2="109.60" stroke="#000" stroke-width="1.0"/>
<line x1="165.05" y1="106.00" x2="165.05" y2="109.60" stroke="#000" stroke-width="1.0"/>
<line x1="176.85" y1="106.00" x2="176.85" y2="109.60" stroke="#000" stroke-width="1.0"/>
<line x1="188.75" y1="106.00" x2="188.75" y2="109.60" stroke="#000" stroke-width="1.0"/>
<line x1="156.80" y1="106.00" x2="156.80" y2="108.30" stroke="#000" stroke-width="0.8"/>
<line x1="158.88" y1="106.00" x2="158.88" y2="108.30" stroke="#000" stroke-width="0.8"/>
<line x1="160.35" y1="106.00" x2="160.35" y2="108.30" stroke="#000" stroke-width="0.8"/>
<line x1="161.50" y1="106.00" x2="161.50" y2="108.30" stroke="#000" stroke-width="0.8"/>
<line x1="162.43" y1="106.00" x2="162.43" y2="108.30" stroke="#000" stroke-width="0.8"/>
<line x1="163.22" y1="106.00" x2="163.22" y2="108.30" stroke="#000" stroke-width="0.8"/>
<line x1="163.91" y1="106.00" x2="163.91" y2="108.30" stroke="#000" stroke-width="0.8"/>
<line x1="164.51" y1="106.00" x2="164.51" y2="108.30" stroke="#000" stroke-width="0.8"/>
<line x1="168.60" y1="106.00" x2="168.60" y2="108.30" stroke="#000" stroke-width="0.8"/>
<line x1="170.68" y1="106.00" x2="170.68" y2="108.30" stroke="#000" stroke-width="0.8"/>
<line x1="172.15" y1="106.00" x2="172.15" y2="108.30" stroke="#000" stroke-width="0.8"/>
<line x1="173.30" y1="106.00" x2="173.30" y2="108.30" stroke="#000" stroke-width="0.8"/>
<line x1="174.23" y1="106.00" x2="174.23" y2="108.30" stroke="#000" stroke-width="0.8"/>
<line x1="175.02" y1="106.00" x2="175.02" y2="108.30" stroke="#000" stroke-width="0.8"/>
<line x1="175.71" y1="106.00" x2="175.71" y2="108.30" stroke="#000" stroke-width="0.8"/>
<line x1="176.31" y1="106.00" x2="176.31" y2="108.30" stroke="#000" stroke-width="0.8"/>
<line x1="180.43" y1="106.00" x2="180.43" y2="108.30" stroke="#000" stroke-width="0.8"/>
<line x1="182.53" y1="106.00" x2="182.53" y2="108.30" stroke="#000" stroke-width="0.8"/>
<line x1="184.01" y1="106.00" x2="184.01" y2="108.30" stroke="#000" stroke-width="0.8"/>
<line x1="185.17" y1="106.00" x2="185.17" y2="108.30" stroke="#000" stroke-width="0.8"/>
<line x1="186.11" y1="106.00" x2="186.11" y2="108.30" stroke="#000" stroke-width="0.8"/>
<line x1="186.91" y1="106.00" x2="186.91" y2="108.30" stroke="#000" stroke-width="0.8"/>
<line x1="187.60" y1="106.00" x2="187.60" y2="108.30" stroke="#000" stroke-width="0.8"/>
<line x1="188.21" y1="106.00" x2="188.21" y2="108.30" stroke="#000" stroke-width="0.8"/>
<line x1="126.45" y1="106.00" x2="126.45" y2="108.30" stroke="#000" stroke-width="0.8"/>
<line x1="129.45" y1="106.00" x2="129.45" y2="108.30" stroke="#000" stroke-width="0.8"/>
<line x1="132.45" y1="106.00" x2="132.45" y2="108.30" stroke="#000" stroke-width="0.8"/>
<line x1="135.45" y1="106.00" x2="135.45" y2="108.30" stroke="#000" stroke-width="0.8"/>
<line x1="140.95" y1="106.00" x2="140.95" y2="109.60" stroke="#000" stroke-width="0.85"/>
<line x1="142.05" y1="106.00" x2="142.05" y2="108.60" stroke="#000" stroke-width="0.85"/>
<line x1="143.15" y1="106.00" x2="143.15" y2="108.60" stroke="#000" stroke-width="0.85"/>
<line x1="144.25" y1="106.00" x2="144.25" y2="109.60" stroke="#000" stroke-width="0.85"/>
<line x1="145.35" y1="106.00" x2="145.35" y2="108.60" stroke="#000" stroke-width="0.85"/>
<line x1="146.45" y1="106.00" x2="146.45" y2="108.60" stroke="#000" stroke-width="0.85"/>
<line x1="147.55" y1="106.00" x2="147.55" y2="109.60" stroke="#000" stroke-width="0.85"/>
<text x="145.55" y="120.10" font-size="7.6" fill="#231f20" stroke="#231f20" stroke-width="0.13" text-anchor="middle" textLength="4.00" lengthAdjust="spacingAndGlyphs">0</text>
<text x="157.80" y="120.10" font-size="7.6" fill="#231f20" stroke="#231f20" stroke-width="0.13" textLength="8.50" lengthAdjust="spacingAndGlyphs">10</text>
<text x="166.40" y="116.50" font-size="5.2" fill="#231f20" stroke="#231f20" stroke-width="0.13" textLength="2.90" lengthAdjust="spacingAndGlyphs">2</text>
<text x="170.90" y="120.10" font-size="7.6" fill="#231f20" stroke="#231f20" stroke-width="0.13" textLength="8.50" lengthAdjust="spacingAndGlyphs">10</text>
<text x="179.50" y="116.50" font-size="5.2" fill="#231f20" stroke="#231f20" stroke-width="0.13" textLength="2.90" lengthAdjust="spacingAndGlyphs">3</text>
<text x="184.00" y="120.10" font-size="7.6" fill="#231f20" stroke="#231f20" stroke-width="0.13" textLength="8.50" lengthAdjust="spacingAndGlyphs">10</text>
<text x="192.60" y="116.50" font-size="5.2" fill="#231f20" stroke="#231f20" stroke-width="0.13" textLength="2.90" lengthAdjust="spacingAndGlyphs">4</text>
<text x="235.95" y="35.20" font-size="9.8" fill="#231f20" stroke="#231f20" stroke-width="0.13" text-anchor="middle" textLength="32.50" lengthAdjust="spacingAndGlyphs">Control</text>
<clipPath id="cp2"><rect x="202.0" y="37.9" width="67.9" height="67.6"/></clipPath><g clip-path="url(#cp2)"><g transform="translate(201.5,37.4)"><g filter="url(#soft)"><g filter="url(#f20)"><polygon points="5.5,10.5 24.0,8.3 41.5,7.5 43.5,12.0 42.0,22.0 36.0,35.0 33.0,48.0 12.0,48.0 11.0,32.0 6.0,20.0"/><ellipse cx="21.0" cy="56.0" rx="12.0" ry="11.0"/></g><g filter="url(#f21)"><polygon points="33.0,24.0 44.0,18.0 46.5,26.0 46.8,38.0 46.8,60.0 38.0,63.0 32.0,50.0"/></g><g filter="url(#f22)"><polygon points="37.0,30.0 45.5,30.0 45.5,58.0 38.0,58.0"/></g><g filter="url(#f23)"><polygon points="8.0,12.0 38.0,9.5 36.0,22.0 31.0,40.0 15.0,40.0 13.0,30.0"/><ellipse cx="21.0" cy="56.0" rx="10.8" ry="10.3"/></g><g filter="url(#f24)"><polygon points="8.5,12.0 37.0,10.0 33.0,22.0 28.0,32.0 25.0,44.0 17.0,44.0 14.0,30.0"/><ellipse cx="21.0" cy="56.0" rx="9.4" ry="9.1"/></g><g filter="url(#f25)"><polygon points="10.5,13.0 37.0,10.5 33.0,19.0 26.0,27.0 24.0,38.0 19.0,38.0 15.0,26.0"/></g><g filter="url(#f26)"><ellipse cx="21.0" cy="56.0" rx="7.6" ry="7.4"/></g><g filter="url(#f27)"><ellipse cx="28.3" cy="17.1" rx="8.4" ry="3.6" transform="rotate(-20 28.3 17.1)"/><ellipse cx="21.0" cy="56.0" rx="5.9" ry="5.8"/></g><g filter="url(#f28)"><ellipse cx="28.5" cy="17.1" rx="7.4" ry="2.9" transform="rotate(-20 28.5 17.1)"/></g><g filter="url(#f29)"><ellipse cx="28.7" cy="17.0" rx="6.4" ry="2.3" transform="rotate(-20 28.7 17.0)"/><ellipse cx="21.0" cy="56.0" rx="4.7" ry="4.6"/></g><rect x="50.0" y="12.0" width="1.1" height="1.1" fill="#2c48aa"/><rect x="54.0" y="16.0" width="1.1" height="1.1" fill="#2c48aa"/><rect x="51.0" y="18.0" width="1.1" height="1.1" fill="#2c48aa"/><rect x="47.0" y="15.0" width="1.1" height="1.1" fill="#2c48aa"/><rect x="56.0" y="18.0" width="1.1" height="1.1" fill="#2c48aa"/><rect x="52.0" y="63.0" width="1.1" height="1.1" fill="#2c48aa"/><rect x="45.0" y="65.0" width="1.1" height="1.1" fill="#2c48aa"/></g></g></g>
<rect x="201.50" y="37.40" width="68.90" height="68.60" fill="none" stroke="#000" stroke-width="1.1"/>
<rect x="239.70" y="67.90" width="11.30" height="26.50" fill="none" stroke="#000" stroke-width="1.25"/>
<text x="267.90" y="103.60" font-size="8.3" fill="#2a2a2a" stroke="#2a2a2a" stroke-width="0.13" text-anchor="end" textLength="14.40" lengthAdjust="spacingAndGlyphs">1.02</text>
<line x1="198.30" y1="44.50" x2="201.50" y2="44.50" stroke="#000" stroke-width="1.0"/>
<line x1="198.30" y1="59.80" x2="201.50" y2="59.80" stroke="#000" stroke-width="1.0"/>
<line x1="198.30" y1="76.40" x2="201.50" y2="76.40" stroke="#000" stroke-width="1.0"/>
<line x1="199.50" y1="39.89" x2="201.50" y2="39.89" stroke="#000" stroke-width="0.8"/>
<line x1="199.50" y1="55.19" x2="201.50" y2="55.19" stroke="#000" stroke-width="0.8"/>
<line x1="199.50" y1="52.50" x2="201.50" y2="52.50" stroke="#000" stroke-width="0.8"/>
<line x1="199.50" y1="50.59" x2="201.50" y2="50.59" stroke="#000" stroke-width="0.8"/>
<line x1="199.50" y1="49.11" x2="201.50" y2="49.11" stroke="#000" stroke-width="0.8"/>
<line x1="199.50" y1="47.89" x2="201.50" y2="47.89" stroke="#000" stroke-width="0.8"/>
<line x1="199.50" y1="46.87" x2="201.50" y2="46.87" stroke="#000" stroke-width="0.8"/>
<line x1="199.50" y1="45.98" x2="201.50" y2="45.98" stroke="#000" stroke-width="0.8"/>
<line x1="199.50" y1="45.20" x2="201.50" y2="45.20" stroke="#000" stroke-width="0.8"/>
<line x1="199.50" y1="71.40" x2="201.50" y2="71.40" stroke="#000" stroke-width="0.8"/>
<line x1="199.50" y1="68.48" x2="201.50" y2="68.48" stroke="#000" stroke-width="0.8"/>
<line x1="199.50" y1="66.41" x2="201.50" y2="66.41" stroke="#000" stroke-width="0.8"/>
<line x1="199.50" y1="64.80" x2="201.50" y2="64.80" stroke="#000" stroke-width="0.8"/>
<line x1="199.50" y1="63.48" x2="201.50" y2="63.48" stroke="#000" stroke-width="0.8"/>
<line x1="199.50" y1="62.37" x2="201.50" y2="62.37" stroke="#000" stroke-width="0.8"/>
<line x1="199.50" y1="61.41" x2="201.50" y2="61.41" stroke="#000" stroke-width="0.8"/>
<line x1="199.50" y1="60.56" x2="201.50" y2="60.56" stroke="#000" stroke-width="0.8"/>
<line x1="199.50" y1="80.50" x2="201.50" y2="80.50" stroke="#000" stroke-width="0.8"/>
<line x1="199.50" y1="84.50" x2="201.50" y2="84.50" stroke="#000" stroke-width="0.8"/>
<line x1="199.50" y1="87.80" x2="201.50" y2="87.80" stroke="#000" stroke-width="0.8"/>
<line x1="199.50" y1="100.50" x2="201.50" y2="100.50" stroke="#000" stroke-width="0.8"/>
<line x1="199.50" y1="103.50" x2="201.50" y2="103.50" stroke="#000" stroke-width="0.8"/>
<line x1="197.90" y1="91.50" x2="201.50" y2="91.50" stroke="#000" stroke-width="0.85"/>
<line x1="198.90" y1="92.60" x2="201.50" y2="92.60" stroke="#000" stroke-width="0.85"/>
<line x1="198.90" y1="93.70" x2="201.50" y2="93.70" stroke="#000" stroke-width="0.85"/>
<line x1="197.90" y1="94.80" x2="201.50" y2="94.80" stroke="#000" stroke-width="0.85"/>
<line x1="198.90" y1="95.90" x2="201.50" y2="95.90" stroke="#000" stroke-width="0.85"/>
<line x1="198.90" y1="97.00" x2="201.50" y2="97.00" stroke="#000" stroke-width="0.85"/>
<line x1="197.90" y1="98.10" x2="201.50" y2="98.10" stroke="#000" stroke-width="0.85"/>
<line x1="214.75" y1="106.00" x2="214.75" y2="109.60" stroke="#000" stroke-width="1.0"/>
<line x1="226.85" y1="106.00" x2="226.85" y2="109.60" stroke="#000" stroke-width="1.0"/>
<line x1="241.05" y1="106.00" x2="241.05" y2="109.60" stroke="#000" stroke-width="1.0"/>
<line x1="252.85" y1="106.00" x2="252.85" y2="109.60" stroke="#000" stroke-width="1.0"/>
<line x1="264.75" y1="106.00" x2="264.75" y2="109.60" stroke="#000" stroke-width="1.0"/>
<line x1="232.80" y1="106.00" x2="232.80" y2="108.30" stroke="#000" stroke-width="0.8"/>
<line x1="234.88" y1="106.00" x2="234.88" y2="108.30" stroke="#000" stroke-width="0.8"/>
<line x1="236.35" y1="106.00" x2="236.35" y2="108.30" stroke="#000" stroke-width="0.8"/>
<line x1="237.50" y1="106.00" x2="237.50" y2="108.30" stroke="#000" stroke-width="0.8"/>
<line x1="238.43" y1="106.00" x2="238.43" y2="108.30" stroke="#000" stroke-width="0.8"/>
<line x1="239.22" y1="106.00" x2="239.22" y2="108.30" stroke="#000" stroke-width="0.8"/>
<line x1="239.91" y1="106.00" x2="239.91" y2="108.30" stroke="#000" stroke-width="0.8"/>
<line x1="240.51" y1="106.00" x2="240.51" y2="108.30" stroke="#000" stroke-width="0.8"/>
<line x1="244.60" y1="106.00" x2="244.60" y2="108.30" stroke="#000" stroke-width="0.8"/>
<line x1="246.68" y1="106.00" x2="246.68" y2="108.30" stroke="#000" stroke-width="0.8"/>
<line x1="248.15" y1="106.00" x2="248.15" y2="108.30" stroke="#000" stroke-width="0.8"/>
<line x1="249.30" y1="106.00" x2="249.30" y2="108.30" stroke="#000" stroke-width="0.8"/>
<line x1="250.23" y1="106.00" x2="250.23" y2="108.30" stroke="#000" stroke-width="0.8"/>
<line x1="251.02" y1="106.00" x2="251.02" y2="108.30" stroke="#000" stroke-width="0.8"/>
<line x1="251.71" y1="106.00" x2="251.71" y2="108.30" stroke="#000" stroke-width="0.8"/>
<line x1="252.31" y1="106.00" x2="252.31" y2="108.30" stroke="#000" stroke-width="0.8"/>
<line x1="256.43" y1="106.00" x2="256.43" y2="108.30" stroke="#000" stroke-width="0.8"/>
<line x1="258.53" y1="106.00" x2="258.53" y2="108.30" stroke="#000" stroke-width="0.8"/>
<line x1="260.01" y1="106.00" x2="260.01" y2="108.30" stroke="#000" stroke-width="0.8"/>
<line x1="261.17" y1="106.00" x2="261.17" y2="108.30" stroke="#000" stroke-width="0.8"/>
<line x1="262.11" y1="106.00" x2="262.11" y2="108.30" stroke="#000" stroke-width="0.8"/>
<line x1="262.91" y1="106.00" x2="262.91" y2="108.30" stroke="#000" stroke-width="0.8"/>
<line x1="263.60" y1="106.00" x2="263.60" y2="108.30" stroke="#000" stroke-width="0.8"/>
<line x1="264.21" y1="106.00" x2="264.21" y2="108.30" stroke="#000" stroke-width="0.8"/>
<line x1="202.45" y1="106.00" x2="202.45" y2="108.30" stroke="#000" stroke-width="0.8"/>
<line x1="205.45" y1="106.00" x2="205.45" y2="108.30" stroke="#000" stroke-width="0.8"/>
<line x1="208.45" y1="106.00" x2="208.45" y2="108.30" stroke="#000" stroke-width="0.8"/>
<line x1="211.45" y1="106.00" x2="211.45" y2="108.30" stroke="#000" stroke-width="0.8"/>
<line x1="216.95" y1="106.00" x2="216.95" y2="109.60" stroke="#000" stroke-width="0.85"/>
<line x1="218.05" y1="106.00" x2="218.05" y2="108.60" stroke="#000" stroke-width="0.85"/>
<line x1="219.15" y1="106.00" x2="219.15" y2="108.60" stroke="#000" stroke-width="0.85"/>
<line x1="220.25" y1="106.00" x2="220.25" y2="109.60" stroke="#000" stroke-width="0.85"/>
<line x1="221.35" y1="106.00" x2="221.35" y2="108.60" stroke="#000" stroke-width="0.85"/>
<line x1="222.45" y1="106.00" x2="222.45" y2="108.60" stroke="#000" stroke-width="0.85"/>
<line x1="223.55" y1="106.00" x2="223.55" y2="109.60" stroke="#000" stroke-width="0.85"/>
<text x="221.55" y="120.10" font-size="7.6" fill="#231f20" stroke="#231f20" stroke-width="0.13" text-anchor="middle" textLength="4.00" lengthAdjust="spacingAndGlyphs">0</text>
<text x="233.80" y="120.10" font-size="7.6" fill="#231f20" stroke="#231f20" stroke-width="0.13" textLength="8.50" lengthAdjust="spacingAndGlyphs">10</text>
<text x="242.40" y="116.50" font-size="5.2" fill="#231f20" stroke="#231f20" stroke-width="0.13" textLength="2.90" lengthAdjust="spacingAndGlyphs">2</text>
<text x="246.90" y="120.10" font-size="7.6" fill="#231f20" stroke="#231f20" stroke-width="0.13" textLength="8.50" lengthAdjust="spacingAndGlyphs">10</text>
<text x="255.50" y="116.50" font-size="5.2" fill="#231f20" stroke="#231f20" stroke-width="0.13" textLength="2.90" lengthAdjust="spacingAndGlyphs">3</text>
<text x="260.00" y="120.10" font-size="7.6" fill="#231f20" stroke="#231f20" stroke-width="0.13" textLength="8.50" lengthAdjust="spacingAndGlyphs">10</text>
<text x="268.60" y="116.50" font-size="5.2" fill="#231f20" stroke="#231f20" stroke-width="0.13" textLength="2.90" lengthAdjust="spacingAndGlyphs">4</text>
<text x="313.05" y="35.20" font-size="9.8" fill="#231f20" stroke="#231f20" stroke-width="0.13" text-anchor="middle" textLength="48.00" lengthAdjust="spacingAndGlyphs">Clodronate</text>
<clipPath id="cp3"><rect x="279.1" y="37.9" width="67.9" height="67.6"/></clipPath><g clip-path="url(#cp3)"><g transform="translate(278.6,37.4)"><g filter="url(#soft)"><g filter="url(#f30)"><polygon points="5.0,10.5 24.0,7.8 41.5,7.0 43.0,11.0 38.0,21.0 32.0,33.0 29.5,47.0 13.0,47.0 11.0,32.0 6.5,20.0"/><ellipse cx="21.0" cy="56.2" rx="11.8" ry="10.8"/></g><g filter="url(#f31)"><polygon points="7.0,11.5 39.0,8.8 36.0,18.0 30.0,30.0 27.5,44.0 15.5,44.0 13.0,30.0 8.5,20.0"/><ellipse cx="21.0" cy="56.2" rx="10.4" ry="9.8"/></g><g filter="url(#f32)"><polygon points="8.5,12.5 38.0,9.8 34.0,20.0 28.0,30.0 25.5,42.0 18.0,42.0 15.0,30.0 10.5,20.0"/></g><g filter="url(#f33)"><ellipse cx="21.0" cy="56.2" rx="8.8" ry="8.5"/></g><g filter="url(#f34)"><polygon points="10.0,13.5 37.5,10.3 34.0,19.0 28.0,27.0 25.0,33.0 19.0,33.0 15.0,26.0 12.0,20.0"/></g><g filter="url(#f35)"><ellipse cx="21.0" cy="56.2" rx="6.2" ry="6.0"/></g><g filter="url(#f36)"><ellipse cx="26.3" cy="17.5" rx="11.0" ry="5.6" transform="rotate(-15 26.3 17.5)"/><ellipse cx="21.0" cy="56.400000000000006" rx="2.8" ry="2.6"/></g><g filter="url(#f37)"><ellipse cx="26.6" cy="17.2" rx="9.8" ry="4.6" transform="rotate(-15 26.6 17.2)"/></g><g filter="url(#f38)"><ellipse cx="27.0" cy="16.9" rx="8.8" ry="3.8" transform="rotate(-15 27.0 16.9)"/></g><rect x="45.0" y="10.0" width="1.1" height="1.1" fill="#2c48aa"/><rect x="48.0" y="11.0" width="1.1" height="1.1" fill="#2c48aa"/><rect x="50.0" y="8.0" width="1.1" height="1.1" fill="#2c48aa"/><rect x="58.0" y="11.0" width="1.1" height="1.1" fill="#2c48aa"/><rect x="60.0" y="9.0" width="1.1" height="1.1" fill="#2c48aa"/><rect x="42.0" y="27.0" width="1.1" height="1.1" fill="#2c48aa"/><rect x="43.0" y="38.0" width="1.1" height="1.1" fill="#2c48aa"/><rect x="40.0" y="62.0" width="1.1" height="1.1" fill="#2c48aa"/><rect x="54.0" y="59.0" width="1.1" height="1.1" fill="#2c48aa"/><rect x="38.0" y="30.0" width="1.1" height="1.1" fill="#2c48aa"/></g></g></g>
<rect x="278.60" y="37.40" width="68.90" height="68.60" fill="none" stroke="#000" stroke-width="1.1"/>
<rect x="315.30" y="67.80" width="12.30" height="26.60" fill="none" stroke="#000" stroke-width="1.25"/>
<text x="345.70" y="103.60" font-size="8.3" fill="#2a2a2a" stroke="#2a2a2a" stroke-width="0.13" text-anchor="end" textLength="19.40" lengthAdjust="spacingAndGlyphs">0.004</text>
<line x1="275.40" y1="44.50" x2="278.60" y2="44.50" stroke="#000" stroke-width="1.0"/>
<line x1="275.40" y1="59.80" x2="278.60" y2="59.80" stroke="#000" stroke-width="1.0"/>
<line x1="275.40" y1="76.40" x2="278.60" y2="76.40" stroke="#000" stroke-width="1.0"/>
<line x1="276.60" y1="39.89" x2="278.60" y2="39.89" stroke="#000" stroke-width="0.8"/>
<line x1="276.60" y1="55.19" x2="278.60" y2="55.19" stroke="#000" stroke-width="0.8"/>
<line x1="276.60" y1="52.50" x2="278.60" y2="52.50" stroke="#000" stroke-width="0.8"/>
<line x1="276.60" y1="50.59" x2="278.60" y2="50.59" stroke="#000" stroke-width="0.8"/>
<line x1="276.60" y1="49.11" x2="278.60" y2="49.11" stroke="#000" stroke-width="0.8"/>
<line x1="276.60" y1="47.89" x2="278.60" y2="47.89" stroke="#000" stroke-width="0.8"/>
<line x1="276.60" y1="46.87" x2="278.60" y2="46.87" stroke="#000" stroke-width="0.8"/>
<line x1="276.60" y1="45.98" x2="278.60" y2="45.98" stroke="#000" stroke-width="0.8"/>
<line x1="276.60" y1="45.20" x2="278.60" y2="45.20" stroke="#000" stroke-width="0.8"/>
<line x1="276.60" y1="71.40" x2="278.60" y2="71.40" stroke="#000" stroke-width="0.8"/>
<line x1="276.60" y1="68.48" x2="278.60" y2="68.48" stroke="#000" stroke-width="0.8"/>
<line x1="276.60" y1="66.41" x2="278.60" y2="66.41" stroke="#000" stroke-width="0.8"/>
<line x1="276.60" y1="64.80" x2="278.60" y2="64.80" stroke="#000" stroke-width="0.8"/>
<line x1="276.60" y1="63.48" x2="278.60" y2="63.48" stroke="#000" stroke-width="0.8"/>
<line x1="276.60" y1="62.37" x2="278.60" y2="62.37" stroke="#000" stroke-width="0.8"/>
<line x1="276.60" y1="61.41" x2="278.60" y2="61.41" stroke="#000" stroke-width="0.8"/>
<line x1="276.60" y1="60.56" x2="278.60" y2="60.56" stroke="#000" stroke-width="0.8"/>
<line x1="276.60" y1="80.50" x2="278.60" y2="80.50" stroke="#000" stroke-width="0.8"/>
<line x1="276.60" y1="84.50" x2="278.60" y2="84.50" stroke="#000" stroke-width="0.8"/>
<line x1="276.60" y1="87.80" x2="278.60" y2="87.80" stroke="#000" stroke-width="0.8"/>
<line x1="276.60" y1="100.50" x2="278.60" y2="100.50" stroke="#000" stroke-width="0.8"/>
<line x1="276.60" y1="103.50" x2="278.60" y2="103.50" stroke="#000" stroke-width="0.8"/>
<line x1="275.00" y1="91.50" x2="278.60" y2="91.50" stroke="#000" stroke-width="0.85"/>
<line x1="276.00" y1="92.60" x2="278.60" y2="92.60" stroke="#000" stroke-width="0.85"/>
<line x1="276.00" y1="93.70" x2="278.60" y2="93.70" stroke="#000" stroke-width="0.85"/>
<line x1="275.00" y1="94.80" x2="278.60" y2="94.80" stroke="#000" stroke-width="0.85"/>
<line x1="276.00" y1="95.90" x2="278.60" y2="95.90" stroke="#000" stroke-width="0.85"/>
<line x1="276.00" y1="97.00" x2="278.60" y2="97.00" stroke="#000" stroke-width="0.85"/>
<line x1="275.00" y1="98.10" x2="278.60" y2="98.10" stroke="#000" stroke-width="0.85"/>
<line x1="291.85" y1="106.00" x2="291.85" y2="109.60" stroke="#000" stroke-width="1.0"/>
<line x1="303.95" y1="106.00" x2="303.95" y2="109.60" stroke="#000" stroke-width="1.0"/>
<line x1="318.15" y1="106.00" x2="318.15" y2="109.60" stroke="#000" stroke-width="1.0"/>
<line x1="329.95" y1="106.00" x2="329.95" y2="109.60" stroke="#000" stroke-width="1.0"/>
<line x1="341.85" y1="106.00" x2="341.85" y2="109.60" stroke="#000" stroke-width="1.0"/>
<line x1="309.90" y1="106.00" x2="309.90" y2="108.30" stroke="#000" stroke-width="0.8"/>
<line x1="311.98" y1="106.00" x2="311.98" y2="108.30" stroke="#000" stroke-width="0.8"/>
<line x1="313.45" y1="106.00" x2="313.45" y2="108.30" stroke="#000" stroke-width="0.8"/>
<line x1="314.60" y1="106.00" x2="314.60" y2="108.30" stroke="#000" stroke-width="0.8"/>
<line x1="315.53" y1="106.00" x2="315.53" y2="108.30" stroke="#000" stroke-width="0.8"/>
<line x1="316.32" y1="106.00" x2="316.32" y2="108.30" stroke="#000" stroke-width="0.8"/>
<line x1="317.01" y1="106.00" x2="317.01" y2="108.30" stroke="#000" stroke-width="0.8"/>
<line x1="317.61" y1="106.00" x2="317.61" y2="108.30" stroke="#000" stroke-width="0.8"/>
<line x1="321.70" y1="106.00" x2="321.70" y2="108.30" stroke="#000" stroke-width="0.8"/>
<line x1="323.78" y1="106.00" x2="323.78" y2="108.30" stroke="#000" stroke-width="0.8"/>
<line x1="325.25" y1="106.00" x2="325.25" y2="108.30" stroke="#000" stroke-width="0.8"/>
<line x1="326.40" y1="106.00" x2="326.40" y2="108.30" stroke="#000" stroke-width="0.8"/>
<line x1="327.33" y1="106.00" x2="327.33" y2="108.30" stroke="#000" stroke-width="0.8"/>
<line x1="328.12" y1="106.00" x2="328.12" y2="108.30" stroke="#000" stroke-width="0.8"/>
<line x1="328.81" y1="106.00" x2="328.81" y2="108.30" stroke="#000" stroke-width="0.8"/>
<line x1="329.41" y1="106.00" x2="329.41" y2="108.30" stroke="#000" stroke-width="0.8"/>
<line x1="333.53" y1="106.00" x2="333.53" y2="108.30" stroke="#000" stroke-width="0.8"/>
<line x1="335.63" y1="106.00" x2="335.63" y2="108.30" stroke="#000" stroke-width="0.8"/>
<line x1="337.11" y1="106.00" x2="337.11" y2="108.30" stroke="#000" stroke-width="0.8"/>
<line x1="338.27" y1="106.00" x2="338.27" y2="108.30" stroke="#000" stroke-width="0.8"/>
<line x1="339.21" y1="106.00" x2="339.21" y2="108.30" stroke="#000" stroke-width="0.8"/>
<line x1="340.01" y1="106.00" x2="340.01" y2="108.30" stroke="#000" stroke-width="0.8"/>
<line x1="340.70" y1="106.00" x2="340.70" y2="108.30" stroke="#000" stroke-width="0.8"/>
<line x1="341.31" y1="106.00" x2="341.31" y2="108.30" stroke="#000" stroke-width="0.8"/>
<line x1="279.55" y1="106.00" x2="279.55" y2="108.30" stroke="#000" stroke-width="0.8"/>
<line x1="282.55" y1="106.00" x2="282.55" y2="108.30" stroke="#000" stroke-width="0.8"/>
<line x1="285.55" y1="106.00" x2="285.55" y2="108.30" stroke="#000" stroke-width="0.8"/>
<line x1="288.55" y1="106.00" x2="288.55" y2="108.30" stroke="#000" stroke-width="0.8"/>
<line x1="294.05" y1="106.00" x2="294.05" y2="109.60" stroke="#000" stroke-width="0.85"/>
<line x1="295.15" y1="106.00" x2="295.15" y2="108.60" stroke="#000" stroke-width="0.85"/>
<line x1="296.25" y1="106.00" x2="296.25" y2="108.60" stroke="#000" stroke-width="0.85"/>
<line x1="297.35" y1="106.00" x2="297.35" y2="109.60" stroke="#000" stroke-width="0.85"/>
<line x1="298.45" y1="106.00" x2="298.45" y2="108.60" stroke="#000" stroke-width="0.85"/>
<line x1="299.55" y1="106.00" x2="299.55" y2="108.60" stroke="#000" stroke-width="0.85"/>
<line x1="300.65" y1="106.00" x2="300.65" y2="109.60" stroke="#000" stroke-width="0.85"/>
<text x="298.65" y="120.10" font-size="7.6" fill="#231f20" stroke="#231f20" stroke-width="0.13" text-anchor="middle" textLength="4.00" lengthAdjust="spacingAndGlyphs">0</text>
<text x="310.90" y="120.10" font-size="7.6" fill="#231f20" stroke="#231f20" stroke-width="0.13" textLength="8.50" lengthAdjust="spacingAndGlyphs">10</text>
<text x="319.50" y="116.50" font-size="5.2" fill="#231f20" stroke="#231f20" stroke-width="0.13" textLength="2.90" lengthAdjust="spacingAndGlyphs">2</text>
<text x="324.00" y="120.10" font-size="7.6" fill="#231f20" stroke="#231f20" stroke-width="0.13" textLength="8.50" lengthAdjust="spacingAndGlyphs">10</text>
<text x="332.60" y="116.50" font-size="5.2" fill="#231f20" stroke="#231f20" stroke-width="0.13" textLength="2.90" lengthAdjust="spacingAndGlyphs">3</text>
<text x="337.10" y="120.10" font-size="7.6" fill="#231f20" stroke="#231f20" stroke-width="0.13" textLength="8.50" lengthAdjust="spacingAndGlyphs">10</text>
<text x="345.70" y="116.50" font-size="5.2" fill="#231f20" stroke="#231f20" stroke-width="0.13" textLength="2.90" lengthAdjust="spacingAndGlyphs">4</text>
<text x="32.60" y="48.30" font-size="7.75" fill="#231f20" stroke="#231f20" stroke-width="0.13" textLength="9.10" lengthAdjust="spacingAndGlyphs">10</text>
<text x="41.80" y="45.00" font-size="6.0" fill="#231f20" stroke="#231f20" stroke-width="0.13" textLength="2.30" lengthAdjust="spacingAndGlyphs">5</text>
<text x="32.60" y="62.80" font-size="7.75" fill="#231f20" stroke="#231f20" stroke-width="0.13" textLength="9.10" lengthAdjust="spacingAndGlyphs">10</text>
<text x="41.80" y="59.50" font-size="6.0" fill="#231f20" stroke="#231f20" stroke-width="0.13" textLength="2.30" lengthAdjust="spacingAndGlyphs">4</text>
<text x="32.60" y="79.60" font-size="7.75" fill="#231f20" stroke="#231f20" stroke-width="0.13" textLength="9.10" lengthAdjust="spacingAndGlyphs">10</text>
<text x="41.80" y="76.30" font-size="6.0" fill="#231f20" stroke="#231f20" stroke-width="0.13" textLength="2.30" lengthAdjust="spacingAndGlyphs">3</text>
<text x="44.00" y="98.00" font-size="7.75" fill="#231f20" stroke="#231f20" stroke-width="0.13" text-anchor="end" textLength="4.30" lengthAdjust="spacingAndGlyphs">0</text>
<text x="0.00" y="0.00" font-size="10.4" fill="#231f20" stroke="#231f20" stroke-width="0.13" text-anchor="middle" textLength="22.20" lengthAdjust="spacingAndGlyphs" transform="translate(24.0,72.1) rotate(-90)">CD11b</text>
<text x="59.80" y="131.90" font-size="9.8" fill="#231f20" stroke="#231f20" stroke-width="0.13" textLength="19.40" lengthAdjust="spacingAndGlyphs">F4/80</text>
<line x1="82.20" y1="129.20" x2="331.00" y2="129.20" stroke="#000" stroke-width="1.1"/>
<path d="M329.5,125.5 L340.5,129.2 L329.5,132.9 Z" fill="#000"/>
<text x="0" y="0" font-size="12.3" font-weight="bold" fill="#000" transform="translate(365.00,15.70) scale(0.734,1)">B</text>
<text x="408.10" y="22.60" font-size="10.0" fill="#231f20" stroke="#231f20" stroke-width="0.13" textLength="35.80" lengthAdjust="spacingAndGlyphs">ZsGreen</text>
<text x="443.90" y="19.80" font-size="6.8" fill="#231f20" stroke="#231f20" stroke-width="0.13" textLength="4.00" lengthAdjust="spacingAndGlyphs">+</text>
<text x="399.60" y="34.30" font-size="10.0" fill="#231f20" stroke="#231f20" stroke-width="0.13" textLength="57.20" lengthAdjust="spacingAndGlyphs">macrophages</text>
<line x1="390.80" y1="46.10" x2="390.80" y2="105.50" stroke="#000" stroke-width="1.1"/>
<line x1="390.30" y1="105.00" x2="472.40" y2="105.00" stroke="#000" stroke-width="1.1"/>
<line x1="388.00" y1="105.00" x2="390.80" y2="105.00" stroke="#000" stroke-width="1"/>
<text x="381.50" y="107.90" font-size="8.2" fill="#231f20" stroke="#231f20" stroke-width="0.13" textLength="4.10" lengthAdjust="spacingAndGlyphs">0</text>
<line x1="388.00" y1="93.32" x2="390.80" y2="93.32" stroke="#000" stroke-width="1"/>
<text x="377.40" y="96.22" font-size="8.2" fill="#231f20" stroke="#231f20" stroke-width="0.13" textLength="8.20" lengthAdjust="spacingAndGlyphs">10</text>
<line x1="388.00" y1="81.64" x2="390.80" y2="81.64" stroke="#000" stroke-width="1"/>
<text x="377.40" y="84.54" font-size="8.2" fill="#231f20" stroke="#231f20" stroke-width="0.13" textLength="8.20" lengthAdjust="spacingAndGlyphs">20</text>
<line x1="388.00" y1="69.96" x2="390.80" y2="69.96" stroke="#000" stroke-width="1"/>
<text x="377.40" y="72.86" font-size="8.2" fill="#231f20" stroke="#231f20" stroke-width="0.13" textLength="8.20" lengthAdjust="spacingAndGlyphs">30</text>
<line x1="388.00" y1="58.28" x2="390.80" y2="58.28" stroke="#000" stroke-width="1"/>
<text x="377.40" y="61.18" font-size="8.2" fill="#231f20" stroke="#231f20" stroke-width="0.13" textLength="8.20" lengthAdjust="spacingAndGlyphs">40</text>
<line x1="388.00" y1="46.60" x2="390.80" y2="46.60" stroke="#000" stroke-width="1"/>
<text x="377.40" y="49.50" font-size="8.2" fill="#231f20" stroke="#231f20" stroke-width="0.13" textLength="8.20" lengthAdjust="spacingAndGlyphs">50</text>
<line x1="410.60" y1="105.00" x2="410.60" y2="107.40" stroke="#000" stroke-width="0.9"/>
<line x1="453.90" y1="105.00" x2="453.90" y2="107.40" stroke="#000" stroke-width="0.9"/>
<text x="0.00" y="0.00" font-size="8.6" fill="#231f20" stroke="#231f20" stroke-width="0.13" text-anchor="middle" textLength="36.60" lengthAdjust="spacingAndGlyphs" transform="translate(369.3,75.0) rotate(-90)">Percentage</text>
<text x="398.20" y="117.40" font-size="8.2" fill="#231f20" stroke="#231f20" stroke-width="0.13" textLength="24.20" lengthAdjust="spacingAndGlyphs">Spleen</text>
<text x="430.50" y="117.40" font-size="8.2" fill="#231f20" stroke="#231f20" stroke-width="0.13" textLength="47.50" lengthAdjust="spacingAndGlyphs">Bone marrow</text>
<rect x="414.30" y="95.30" width="9.30" height="9.70" fill="#a6c1dc" stroke="#94b3d3" stroke-width="0.7"/>
<rect x="457.30" y="86.30" width="9.20" height="18.70" fill="#a6c1dc" stroke="#94b3d3" stroke-width="0.7"/>
<circle cx="398.50" cy="104.30" r="1.5" fill="#c8102e"/>
<circle cx="400.50" cy="104.30" r="1.5" fill="#c8102e"/>
<circle cx="402.50" cy="104.30" r="1.5" fill="#c8102e"/>
<circle cx="404.50" cy="104.30" r="1.5" fill="#c8102e"/>
<circle cx="406.50" cy="104.30" r="1.5" fill="#c8102e"/>
<circle cx="441.00" cy="103.80" r="1.6" fill="#c8102e"/>
<circle cx="443.00" cy="103.80" r="1.6" fill="#c8102e"/>
<circle cx="445.00" cy="103.80" r="1.6" fill="#c8102e"/>
<circle cx="447.00" cy="103.80" r="1.6" fill="#c8102e"/>
<circle cx="449.50" cy="103.80" r="1.6" fill="#c8102e"/>
<line x1="419.00" y1="90.50" x2="419.00" y2="99.70" stroke="#000" stroke-width="1.1"/>
<line x1="416.80" y1="90.50" x2="421.20" y2="90.50" stroke="#000" stroke-width="1.1"/>
<line x1="461.60" y1="66.80" x2="461.60" y2="103.00" stroke="#000" stroke-width="1.3"/>
<line x1="459.20" y1="66.80" x2="464.00" y2="66.80" stroke="#000" stroke-width="1.3"/>
<circle cx="415.30" cy="89.80" r="1.7" fill="#0f4c86"/>
<circle cx="417.90" cy="89.80" r="1.7" fill="#0f4c86"/>
<circle cx="420.50" cy="89.80" r="1.7" fill="#0f4c86"/>
<circle cx="422.70" cy="87.20" r="1.7" fill="#0f4c86"/>
<circle cx="419.60" cy="92.80" r="1.7" fill="#0f4c86"/>
<circle cx="422.20" cy="94.50" r="1.7" fill="#0f4c86"/>
<circle cx="416.10" cy="95.00" r="1.7" fill="#0f4c86"/>
<circle cx="419.60" cy="97.10" r="1.7" fill="#0f4c86"/>
<circle cx="418.20" cy="101.40" r="1.7" fill="#0f4c86"/>
<circle cx="422.50" cy="98.80" r="1.7" fill="#0f4c86"/>
<circle cx="461.60" cy="54.20" r="1.7" fill="#0f4c86"/>
<circle cx="461.60" cy="58.70" r="1.7" fill="#0f4c86"/>
<circle cx="459.40" cy="80.70" r="1.7" fill="#0f4c86"/>
<circle cx="463.70" cy="81.50" r="1.7" fill="#0f4c86"/>
<circle cx="461.60" cy="90.20" r="1.7" fill="#0f4c86"/>
<circle cx="461.10" cy="95.40" r="1.7" fill="#0f4c86"/>
<circle cx="458.50" cy="101.40" r="1.7" fill="#0f4c86"/>
<circle cx="461.60" cy="101.40" r="1.7" fill="#0f4c86"/>
<circle cx="464.90" cy="102.60" r="1.7" fill="#0f4c86"/>
<circle cx="458.50" cy="103.10" r="1.7" fill="#0f4c86"/>
<line x1="403.70" y1="81.20" x2="419.30" y2="81.20" stroke="#000" stroke-width="1"/>
<path d="M407.90,76.90L407.90,79.90M406.60,77.65L409.20,79.15M406.60,79.15L409.20,77.65M411.30,76.90L411.30,79.90M410.00,77.65L412.60,79.15M410.00,79.15L412.60,77.65M414.70,76.90L414.70,79.90M413.40,77.65L416.00,79.15M413.40,79.15L416.00,77.65" stroke="#231f20" stroke-width="1.0" fill="none"/>
<line x1="447.30" y1="49.00" x2="462.00" y2="49.00" stroke="#000" stroke-width="1"/>
<path d="M451.20,44.70L451.20,47.70M449.90,45.45L452.50,46.95M449.90,46.95L452.50,45.45M454.60,44.70L454.60,47.70M453.30,45.45L455.90,46.95M453.30,46.95L455.90,45.45M458.00,44.70L458.00,47.70M456.70,45.45L459.30,46.95M456.70,46.95L459.30,45.45" stroke="#231f20" stroke-width="1.0" fill="none"/>
<circle cx="475.30" cy="43.40" r="3.3" fill="#c8102e"/>
<circle cx="475.30" cy="61.50" r="3.3" fill="#0f4c86"/>
<text x="482.00" y="45.70" font-size="8.2" fill="#231f20" stroke="#231f20" stroke-width="0.13" textLength="18.80" lengthAdjust="spacingAndGlyphs">Naive</text>
<text x="482.00" y="54.40" font-size="8.2" fill="#231f20" stroke="#231f20" stroke-width="0.13" textLength="14.90" lengthAdjust="spacingAndGlyphs">mice</text>
<text x="482.00" y="63.90" font-size="8.2" fill="#231f20" stroke="#231f20" stroke-width="0.13" textLength="30.80" lengthAdjust="spacingAndGlyphs">Leukemic</text>
<text x="482.00" y="72.60" font-size="8.2" fill="#231f20" stroke="#231f20" stroke-width="0.13" textLength="14.90" lengthAdjust="spacingAndGlyphs">mice</text>
<text x="0" y="0" font-size="12.3" font-weight="bold" fill="#000" transform="translate(6.70,143.60) scale(0.847,1)">C</text>
<path d="M53.40,203.40 C53.85,201.93 55.20,197.52 56.10,194.60 C57.00,191.68 58.00,187.70 58.80,185.90 C59.60,184.10 60.22,185.95 60.90,183.80 C61.58,181.65 62.30,177.17 62.90,173.00 C63.50,168.83 63.98,158.80 64.50,158.80 C65.02,158.80 65.60,167.70 66.00,173.00 C66.40,178.30 66.58,185.75 66.90,190.60 C67.22,195.45 67.67,199.97 67.90,202.10 C68.13,204.23 68.23,203.18 68.30,203.40 Z" fill="#c8102e"/>
<path d="M76.40,203.40 C76.73,202.40 77.72,200.22 78.40,197.40 C79.08,194.58 79.82,191.02 80.50,186.50 C81.18,181.98 81.83,174.98 82.50,170.30 C83.17,165.62 83.93,158.85 84.50,158.40 C85.07,157.95 85.33,163.13 85.90,167.60 C86.47,172.07 87.35,180.13 87.90,185.20 C88.45,190.27 88.75,194.97 89.20,198.00 C89.65,201.03 90.37,202.50 90.60,203.40 Z" fill="#0f4c86"/>
<rect x="48.60" y="149.40" width="54.40" height="54.20" fill="none" stroke="#000" stroke-width="1.1"/>
<line x1="45.30" y1="202.80" x2="48.60" y2="202.80" stroke="#000" stroke-width="0.9"/>
<line x1="46.60" y1="200.78" x2="48.60" y2="200.78" stroke="#000" stroke-width="0.75"/>
<line x1="46.60" y1="198.76" x2="48.60" y2="198.76" stroke="#000" stroke-width="0.75"/>
<line x1="46.60" y1="196.74" x2="48.60" y2="196.74" stroke="#000" stroke-width="0.75"/>
<line x1="46.60" y1="194.72" x2="48.60" y2="194.72" stroke="#000" stroke-width="0.75"/>
<line x1="45.30" y1="192.70" x2="48.60" y2="192.70" stroke="#000" stroke-width="0.9"/>
<line x1="46.60" y1="190.68" x2="48.60" y2="190.68" stroke="#000" stroke-width="0.75"/>
<line x1="46.60" y1="188.66" x2="48.60" y2="188.66" stroke="#000" stroke-width="0.75"/>
<line x1="46.60" y1="186.64" x2="48.60" y2="186.64" stroke="#000" stroke-width="0.75"/>
<line x1="46.60" y1="184.62" x2="48.60" y2="184.62" stroke="#000" stroke-width="0.75"/>
<line x1="45.30" y1="182.60" x2="48.60" y2="182.60" stroke="#000" stroke-width="0.9"/>
<line x1="46.60" y1="180.58" x2="48.60" y2="180.58" stroke="#000" stroke-width="0.75"/>
<line x1="46.60" y1="178.56" x2="48.60" y2="178.56" stroke="#000" stroke-width="0.75"/>
<line x1="46.60" y1="176.54" x2="48.60" y2="176.54" stroke="#000" stroke-width="0.75"/>
<line x1="46.60" y1="174.52" x2="48.60" y2="174.52" stroke="#000" stroke-width="0.75"/>
<line x1="45.30" y1="172.50" x2="48.60" y2="172.50" stroke="#000" stroke-width="0.9"/>
<line x1="46.60" y1="170.48" x2="48.60" y2="170.48" stroke="#000" stroke-width="0.75"/>
<line x1="46.60" y1="168.46" x2="48.60" y2="168.46" stroke="#000" stroke-width="0.75"/>
<line x1="46.60" y1="166.44" x2="48.60" y2="166.44" stroke="#000" stroke-width="0.75"/>
<line x1="46.60" y1="164.42" x2="48.60" y2="164.42" stroke="#000" stroke-width="0.75"/>
<line x1="45.30" y1="162.40" x2="48.60" y2="162.40" stroke="#000" stroke-width="0.9"/>
<line x1="46.60" y1="160.38" x2="48.60" y2="160.38" stroke="#000" stroke-width="0.75"/>
<line x1="46.60" y1="158.36" x2="48.60" y2="158.36" stroke="#000" stroke-width="0.75"/>
<line x1="46.60" y1="156.34" x2="48.60" y2="156.34" stroke="#000" stroke-width="0.75"/>
<line x1="46.60" y1="154.32" x2="48.60" y2="154.32" stroke="#000" stroke-width="0.75"/>
<line x1="45.30" y1="152.30" x2="48.60" y2="152.30" stroke="#000" stroke-width="0.9"/>
<line x1="50.55" y1="203.60" x2="50.55" y2="205.60" stroke="#000" stroke-width="0.8"/>
<line x1="51.78" y1="203.60" x2="51.78" y2="205.60" stroke="#000" stroke-width="0.8"/>
<line x1="52.78" y1="203.60" x2="52.78" y2="205.60" stroke="#000" stroke-width="0.8"/>
<line x1="53.63" y1="203.60" x2="53.63" y2="205.60" stroke="#000" stroke-width="0.8"/>
<line x1="54.37" y1="203.60" x2="54.37" y2="205.60" stroke="#000" stroke-width="0.8"/>
<line x1="55.02" y1="203.60" x2="55.02" y2="205.60" stroke="#000" stroke-width="0.8"/>
<line x1="59.42" y1="203.60" x2="59.42" y2="205.60" stroke="#000" stroke-width="0.8"/>
<line x1="61.66" y1="203.60" x2="61.66" y2="205.60" stroke="#000" stroke-width="0.8"/>
<line x1="63.25" y1="203.60" x2="63.25" y2="205.60" stroke="#000" stroke-width="0.8"/>
<line x1="64.48" y1="203.60" x2="64.48" y2="205.60" stroke="#000" stroke-width="0.8"/>
<line x1="65.48" y1="203.60" x2="65.48" y2="205.60" stroke="#000" stroke-width="0.8"/>
<line x1="66.33" y1="203.60" x2="66.33" y2="205.60" stroke="#000" stroke-width="0.8"/>
<line x1="67.07" y1="203.60" x2="67.07" y2="205.60" stroke="#000" stroke-width="0.8"/>
<line x1="67.72" y1="203.60" x2="67.72" y2="205.60" stroke="#000" stroke-width="0.8"/>
<line x1="72.12" y1="203.60" x2="72.12" y2="205.60" stroke="#000" stroke-width="0.8"/>
<line x1="74.36" y1="203.60" x2="74.36" y2="205.60" stroke="#000" stroke-width="0.8"/>
<line x1="75.95" y1="203.60" x2="75.95" y2="205.60" stroke="#000" stroke-width="0.8"/>
<line x1="77.18" y1="203.60" x2="77.18" y2="205.60" stroke="#000" stroke-width="0.8"/>
<line x1="78.18" y1="203.60" x2="78.18" y2="205.60" stroke="#000" stroke-width="0.8"/>
<line x1="79.03" y1="203.60" x2="79.03" y2="205.60" stroke="#000" stroke-width="0.8"/>
<line x1="79.77" y1="203.60" x2="79.77" y2="205.60" stroke="#000" stroke-width="0.8"/>
<line x1="80.42" y1="203.60" x2="80.42" y2="205.60" stroke="#000" stroke-width="0.8"/>
<line x1="84.82" y1="203.60" x2="84.82" y2="205.60" stroke="#000" stroke-width="0.8"/>
<line x1="87.06" y1="203.60" x2="87.06" y2="205.60" stroke="#000" stroke-width="0.8"/>
<line x1="88.65" y1="203.60" x2="88.65" y2="205.60" stroke="#000" stroke-width="0.8"/>
<line x1="89.88" y1="203.60" x2="89.88" y2="205.60" stroke="#000" stroke-width="0.8"/>
<line x1="90.88" y1="203.60" x2="90.88" y2="205.60" stroke="#000" stroke-width="0.8"/>
<line x1="91.73" y1="203.60" x2="91.73" y2="205.60" stroke="#000" stroke-width="0.8"/>
<line x1="92.47" y1="203.60" x2="92.47" y2="205.60" stroke="#000" stroke-width="0.8"/>
<line x1="93.12" y1="203.60" x2="93.12" y2="205.60" stroke="#000" stroke-width="0.8"/>
<line x1="97.52" y1="203.60" x2="97.52" y2="205.60" stroke="#000" stroke-width="0.8"/>
<line x1="99.76" y1="203.60" x2="99.76" y2="205.60" stroke="#000" stroke-width="0.8"/>
<line x1="101.35" y1="203.60" x2="101.35" y2="205.60" stroke="#000" stroke-width="0.8"/>
<line x1="51.10" y1="203.60" x2="51.10" y2="205.60" stroke="#000" stroke-width="0.8"/>
<line x1="52.60" y1="203.60" x2="52.60" y2="205.60" stroke="#000" stroke-width="0.8"/>
<line x1="54.10" y1="203.60" x2="54.10" y2="205.60" stroke="#000" stroke-width="0.8"/>
<line x1="57.10" y1="203.60" x2="57.10" y2="205.60" stroke="#000" stroke-width="0.8"/>
<line x1="58.60" y1="203.60" x2="58.60" y2="205.60" stroke="#000" stroke-width="0.8"/>
<line x1="55.60" y1="203.60" x2="55.60" y2="207.00" stroke="#000" stroke-width="1.0"/>
<line x1="68.30" y1="203.60" x2="68.30" y2="207.00" stroke="#000" stroke-width="1.0"/>
<line x1="81.00" y1="203.60" x2="81.00" y2="207.00" stroke="#000" stroke-width="1.0"/>
<line x1="93.70" y1="203.60" x2="93.70" y2="207.00" stroke="#000" stroke-width="1.0"/>
<text x="37.87" y="205.35" font-size="7.2" fill="#231f20" stroke="#231f20" stroke-width="0.13" textLength="4.03" lengthAdjust="spacingAndGlyphs">0</text>
<text x="33.84" y="195.25" font-size="7.2" fill="#231f20" stroke="#231f20" stroke-width="0.13" textLength="8.06" lengthAdjust="spacingAndGlyphs">20</text>
<text x="33.84" y="185.15" font-size="7.2" fill="#231f20" stroke="#231f20" stroke-width="0.13" textLength="8.06" lengthAdjust="spacingAndGlyphs">40</text>
<text x="33.84" y="175.05" font-size="7.2" fill="#231f20" stroke="#231f20" stroke-width="0.13" textLength="8.06" lengthAdjust="spacingAndGlyphs">60</text>
<text x="33.84" y="164.95" font-size="7.2" fill="#231f20" stroke="#231f20" stroke-width="0.13" textLength="8.06" lengthAdjust="spacingAndGlyphs">80</text>
<text x="29.81" y="154.85" font-size="7.2" fill="#231f20" stroke="#231f20" stroke-width="0.13" textLength="12.09" lengthAdjust="spacingAndGlyphs">100</text>
<path d="M118.10,203.40 C118.33,202.62 119.05,202.63 119.50,198.70 C119.95,194.77 120.35,186.33 120.80,179.80 C121.25,173.27 121.75,159.95 122.20,159.50 C122.65,159.05 123.05,171.02 123.50,177.10 C123.95,183.18 124.45,191.95 124.90,196.00 C125.35,200.05 125.82,200.17 126.20,201.40 C126.58,202.63 127.03,203.07 127.20,203.40 Z" fill="#c8102e"/>
<path d="M128.90,203.40 C129.35,202.73 130.68,201.30 131.60,199.40 C132.52,197.50 133.60,195.95 134.40,192.00 C135.20,188.05 135.85,180.43 136.40,175.70 C136.95,170.97 137.20,166.18 137.70,163.60 C138.20,161.02 138.83,160.20 139.40,160.20 C139.97,160.20 140.58,160.57 141.10,163.60 C141.62,166.63 142.05,173.23 142.50,178.40 C142.95,183.57 143.35,190.88 143.80,194.60 C144.25,198.32 144.75,199.23 145.20,200.70 C145.65,202.17 146.28,202.95 146.50,203.40 Z" fill="#0f4c86"/>
<rect x="110.40" y="149.40" width="55.00" height="54.20" fill="none" stroke="#000" stroke-width="1.1"/>
<line x1="107.10" y1="202.80" x2="110.40" y2="202.80" stroke="#000" stroke-width="0.9"/>
<line x1="108.40" y1="200.78" x2="110.40" y2="200.78" stroke="#000" stroke-width="0.75"/>
<line x1="108.40" y1="198.76" x2="110.40" y2="198.76" stroke="#000" stroke-width="0.75"/>
<line x1="108.40" y1="196.74" x2="110.40" y2="196.74" stroke="#000" stroke-width="0.75"/>
<line x1="108.40" y1="194.72" x2="110.40" y2="194.72" stroke="#000" stroke-width="0.75"/>
<line x1="107.10" y1="192.70" x2="110.40" y2="192.70" stroke="#000" stroke-width="0.9"/>
<line x1="108.40" y1="190.68" x2="110.40" y2="190.68" stroke="#000" stroke-width="0.75"/>
<line x1="108.40" y1="188.66" x2="110.40" y2="188.66" stroke="#000" stroke-width="0.75"/>
<line x1="108.40" y1="186.64" x2="110.40" y2="186.64" stroke="#000" stroke-width="0.75"/>
<line x1="108.40" y1="184.62" x2="110.40" y2="184.62" stroke="#000" stroke-width="0.75"/>
<line x1="107.10" y1="182.60" x2="110.40" y2="182.60" stroke="#000" stroke-width="0.9"/>
<line x1="108.40" y1="180.58" x2="110.40" y2="180.58" stroke="#000" stroke-width="0.75"/>
<line x1="108.40" y1="178.56" x2="110.40" y2="178.56" stroke="#000" stroke-width="0.75"/>
<line x1="108.40" y1="176.54" x2="110.40" y2="176.54" stroke="#000" stroke-width="0.75"/>
<line x1="108.40" y1="174.52" x2="110.40" y2="174.52" stroke="#000" stroke-width="0.75"/>
<line x1="107.10" y1="172.50" x2="110.40" y2="172.50" stroke="#000" stroke-width="0.9"/>
<line x1="108.40" y1="170.48" x2="110.40" y2="170.48" stroke="#000" stroke-width="0.75"/>
<line x1="108.40" y1="168.46" x2="110.40" y2="168.46" stroke="#000" stroke-width="0.75"/>
<line x1="108.40" y1="166.44" x2="110.40" y2="166.44" stroke="#000" stroke-width="0.75"/>
<line x1="108.40" y1="164.42" x2="110.40" y2="164.42" stroke="#000" stroke-width="0.75"/>
<line x1="107.10" y1="162.40" x2="110.40" y2="162.40" stroke="#000" stroke-width="0.9"/>
<line x1="108.40" y1="160.38" x2="110.40" y2="160.38" stroke="#000" stroke-width="0.75"/>
<line x1="108.40" y1="158.36" x2="110.40" y2="158.36" stroke="#000" stroke-width="0.75"/>
<line x1="108.40" y1="156.34" x2="110.40" y2="156.34" stroke="#000" stroke-width="0.75"/>
<line x1="108.40" y1="154.32" x2="110.40" y2="154.32" stroke="#000" stroke-width="0.75"/>
<line x1="107.10" y1="152.30" x2="110.40" y2="152.30" stroke="#000" stroke-width="0.9"/>
<line x1="112.35" y1="203.60" x2="112.35" y2="205.60" stroke="#000" stroke-width="0.8"/>
<line x1="113.58" y1="203.60" x2="113.58" y2="205.60" stroke="#000" stroke-width="0.8"/>
<line x1="114.58" y1="203.60" x2="114.58" y2="205.60" stroke="#000" stroke-width="0.8"/>
<line x1="115.43" y1="203.60" x2="115.43" y2="205.60" stroke="#000" stroke-width="0.8"/>
<line x1="116.17" y1="203.60" x2="116.17" y2="205.60" stroke="#000" stroke-width="0.8"/>
<line x1="116.82" y1="203.60" x2="116.82" y2="205.60" stroke="#000" stroke-width="0.8"/>
<line x1="121.22" y1="203.60" x2="121.22" y2="205.60" stroke="#000" stroke-width="0.8"/>
<line x1="123.46" y1="203.60" x2="123.46" y2="205.60" stroke="#000" stroke-width="0.8"/>
<line x1="125.05" y1="203.60" x2="125.05" y2="205.60" stroke="#000" stroke-width="0.8"/>
<line x1="126.28" y1="203.60" x2="126.28" y2="205.60" stroke="#000" stroke-width="0.8"/>
<line x1="127.28" y1="203.60" x2="127.28" y2="205.60" stroke="#000" stroke-width="0.8"/>
<line x1="128.13" y1="203.60" x2="128.13" y2="205.60" stroke="#000" stroke-width="0.8"/>
<line x1="128.87" y1="203.60" x2="128.87" y2="205.60" stroke="#000" stroke-width="0.8"/>
<line x1="129.52" y1="203.60" x2="129.52" y2="205.60" stroke="#000" stroke-width="0.8"/>
<line x1="133.92" y1="203.60" x2="133.92" y2="205.60" stroke="#000" stroke-width="0.8"/>
<line x1="136.16" y1="203.60" x2="136.16" y2="205.60" stroke="#000" stroke-width="0.8"/>
<line x1="137.75" y1="203.60" x2="137.75" y2="205.60" stroke="#000" stroke-width="0.8"/>
<line x1="138.98" y1="203.60" x2="138.98" y2="205.60" stroke="#000" stroke-width="0.8"/>
<line x1="139.98" y1="203.60" x2="139.98" y2="205.60" stroke="#000" stroke-width="0.8"/>
<line x1="140.83" y1="203.60" x2="140.83" y2="205.60" stroke="#000" stroke-width="0.8"/>
<line x1="141.57" y1="203.60" x2="141.57" y2="205.60" stroke="#000" stroke-width="0.8"/>
<line x1="142.22" y1="203.60" x2="142.22" y2="205.60" stroke="#000" stroke-width="0.8"/>
<line x1="146.62" y1="203.60" x2="146.62" y2="205.60" stroke="#000" stroke-width="0.8"/>
<line x1="148.86" y1="203.60" x2="148.86" y2="205.60" stroke="#000" stroke-width="0.8"/>
<line x1="150.45" y1="203.60" x2="150.45" y2="205.60" stroke="#000" stroke-width="0.8"/>
<line x1="151.68" y1="203.60" x2="151.68" y2="205.60" stroke="#000" stroke-width="0.8"/>
<line x1="152.68" y1="203.60" x2="152.68" y2="205.60" stroke="#000" stroke-width="0.8"/>
<line x1="153.53" y1="203.60" x2="153.53" y2="205.60" stroke="#000" stroke-width="0.8"/>
<line x1="154.27" y1="203.60" x2="154.27" y2="205.60" stroke="#000" stroke-width="0.8"/>
<line x1="154.92" y1="203.60" x2="154.92" y2="205.60" stroke="#000" stroke-width="0.8"/>
<line x1="159.32" y1="203.60" x2="159.32" y2="205.60" stroke="#000" stroke-width="0.8"/>
<line x1="161.56" y1="203.60" x2="161.56" y2="205.60" stroke="#000" stroke-width="0.8"/>
<line x1="163.15" y1="203.60" x2="163.15" y2="205.60" stroke="#000" stroke-width="0.8"/>
<line x1="164.38" y1="203.60" x2="164.38" y2="205.60" stroke="#000" stroke-width="0.8"/>
<line x1="112.90" y1="203.60" x2="112.90" y2="205.60" stroke="#000" stroke-width="0.8"/>
<line x1="114.40" y1="203.60" x2="114.40" y2="205.60" stroke="#000" stroke-width="0.8"/>
<line x1="115.90" y1="203.60" x2="115.90" y2="205.60" stroke="#000" stroke-width="0.8"/>
<line x1="118.90" y1="203.60" x2="118.90" y2="205.60" stroke="#000" stroke-width="0.8"/>
<line x1="120.40" y1="203.60" x2="120.40" y2="205.60" stroke="#000" stroke-width="0.8"/>
<line x1="117.40" y1="203.60" x2="117.40" y2="207.00" stroke="#000" stroke-width="1.0"/>
<line x1="130.10" y1="203.60" x2="130.10" y2="207.00" stroke="#000" stroke-width="1.0"/>
<line x1="142.80" y1="203.60" x2="142.80" y2="207.00" stroke="#000" stroke-width="1.0"/>
<line x1="155.50" y1="203.60" x2="155.50" y2="207.00" stroke="#000" stroke-width="1.0"/>
<path d="M53.40,267.00 C53.85,266.40 55.30,265.70 56.10,263.40 C56.90,261.10 57.63,256.70 58.20,253.20 C58.77,249.70 59.12,246.00 59.50,242.40 C59.88,238.80 60.20,234.57 60.50,231.60 C60.80,228.63 60.95,225.53 61.30,224.60 C61.65,223.67 62.22,225.05 62.60,226.00 C62.98,226.95 63.22,227.12 63.60,230.30 C63.98,233.48 64.45,240.38 64.90,245.10 C65.35,249.82 65.88,255.22 66.30,258.60 C66.72,261.98 67.13,264.00 67.40,265.40 C67.67,266.80 67.82,266.73 67.90,267.00 Z" fill="#c8102e"/>
<path d="M77.10,267.00 C77.55,266.07 79.02,265.05 79.80,261.40 C80.58,257.75 81.23,250.28 81.80,245.10 C82.37,239.92 82.75,233.63 83.20,230.30 C83.65,226.97 84.12,225.10 84.50,225.10 C84.88,225.10 85.17,226.73 85.50,230.30 C85.83,233.87 86.05,242.22 86.50,246.50 C86.95,250.78 87.63,253.75 88.20,256.00 C88.77,258.25 89.28,259.00 89.90,260.00 C90.52,261.00 91.22,261.10 91.90,262.00 C92.58,262.90 93.50,264.57 94.00,265.40 C94.50,266.23 94.75,266.73 94.90,267.00 Z" fill="#0f4c86"/>
<rect x="48.60" y="213.20" width="54.30" height="54.00" fill="none" stroke="#000" stroke-width="1.1"/>
<line x1="45.30" y1="266.40" x2="48.60" y2="266.40" stroke="#000" stroke-width="0.9"/>
<line x1="46.60" y1="264.38" x2="48.60" y2="264.38" stroke="#000" stroke-width="0.75"/>
<line x1="46.60" y1="262.36" x2="48.60" y2="262.36" stroke="#000" stroke-width="0.75"/>
<line x1="46.60" y1="260.34" x2="48.60" y2="260.34" stroke="#000" stroke-width="0.75"/>
<line x1="46.60" y1="258.32" x2="48.60" y2="258.32" stroke="#000" stroke-width="0.75"/>
<line x1="45.30" y1="256.30" x2="48.60" y2="256.30" stroke="#000" stroke-width="0.9"/>
<line x1="46.60" y1="254.28" x2="48.60" y2="254.28" stroke="#000" stroke-width="0.75"/>
<line x1="46.60" y1="252.26" x2="48.60" y2="252.26" stroke="#000" stroke-width="0.75"/>
<line x1="46.60" y1="250.24" x2="48.60" y2="250.24" stroke="#000" stroke-width="0.75"/>
<line x1="46.60" y1="248.22" x2="48.60" y2="248.22" stroke="#000" stroke-width="0.75"/>
<line x1="45.30" y1="246.20" x2="48.60" y2="246.20" stroke="#000" stroke-width="0.9"/>
<line x1="46.60" y1="244.18" x2="48.60" y2="244.18" stroke="#000" stroke-width="0.75"/>
<line x1="46.60" y1="242.16" x2="48.60" y2="242.16" stroke="#000" stroke-width="0.75"/>
<line x1="46.60" y1="240.14" x2="48.60" y2="240.14" stroke="#000" stroke-width="0.75"/>
<line x1="46.60" y1="238.12" x2="48.60" y2="238.12" stroke="#000" stroke-width="0.75"/>
<line x1="45.30" y1="236.10" x2="48.60" y2="236.10" stroke="#000" stroke-width="0.9"/>
<line x1="46.60" y1="234.08" x2="48.60" y2="234.08" stroke="#000" stroke-width="0.75"/>
<line x1="46.60" y1="232.06" x2="48.60" y2="232.06" stroke="#000" stroke-width="0.75"/>
<line x1="46.60" y1="230.04" x2="48.60" y2="230.04" stroke="#000" stroke-width="0.75"/>
<line x1="46.60" y1="228.02" x2="48.60" y2="228.02" stroke="#000" stroke-width="0.75"/>
<line x1="45.30" y1="226.00" x2="48.60" y2="226.00" stroke="#000" stroke-width="0.9"/>
<line x1="46.60" y1="223.98" x2="48.60" y2="223.98" stroke="#000" stroke-width="0.75"/>
<line x1="46.60" y1="221.96" x2="48.60" y2="221.96" stroke="#000" stroke-width="0.75"/>
<line x1="46.60" y1="219.94" x2="48.60" y2="219.94" stroke="#000" stroke-width="0.75"/>
<line x1="46.60" y1="217.92" x2="48.60" y2="217.92" stroke="#000" stroke-width="0.75"/>
<line x1="45.30" y1="215.90" x2="48.60" y2="215.90" stroke="#000" stroke-width="0.9"/>
<line x1="50.55" y1="267.20" x2="50.55" y2="269.20" stroke="#000" stroke-width="0.8"/>
<line x1="51.78" y1="267.20" x2="51.78" y2="269.20" stroke="#000" stroke-width="0.8"/>
<line x1="52.78" y1="267.20" x2="52.78" y2="269.20" stroke="#000" stroke-width="0.8"/>
<line x1="53.63" y1="267.20" x2="53.63" y2="269.20" stroke="#000" stroke-width="0.8"/>
<line x1="54.37" y1="267.20" x2="54.37" y2="269.20" stroke="#000" stroke-width="0.8"/>
<line x1="55.02" y1="267.20" x2="55.02" y2="269.20" stroke="#000" stroke-width="0.8"/>
<line x1="59.42" y1="267.20" x2="59.42" y2="269.20" stroke="#000" stroke-width="0.8"/>
<line x1="61.66" y1="267.20" x2="61.66" y2="269.20" stroke="#000" stroke-width="0.8"/>
<line x1="63.25" y1="267.20" x2="63.25" y2="269.20" stroke="#000" stroke-width="0.8"/>
<line x1="64.48" y1="267.20" x2="64.48" y2="269.20" stroke="#000" stroke-width="0.8"/>
<line x1="65.48" y1="267.20" x2="65.48" y2="269.20" stroke="#000" stroke-width="0.8"/>
<line x1="66.33" y1="267.20" x2="66.33" y2="269.20" stroke="#000" stroke-width="0.8"/>
<line x1="67.07" y1="267.20" x2="67.07" y2="269.20" stroke="#000" stroke-width="0.8"/>
<line x1="67.72" y1="267.20" x2="67.72" y2="269.20" stroke="#000" stroke-width="0.8"/>
<line x1="72.12" y1="267.20" x2="72.12" y2="269.20" stroke="#000" stroke-width="0.8"/>
<line x1="74.36" y1="267.20" x2="74.36" y2="269.20" stroke="#000" stroke-width="0.8"/>
<line x1="75.95" y1="267.20" x2="75.95" y2="269.20" stroke="#000" stroke-width="0.8"/>
<line x1="77.18" y1="267.20" x2="77.18" y2="269.20" stroke="#000" stroke-width="0.8"/>
<line x1="78.18" y1="267.20" x2="78.18" y2="269.20" stroke="#000" stroke-width="0.8"/>
<line x1="79.03" y1="267.20" x2="79.03" y2="269.20" stroke="#000" stroke-width="0.8"/>
<line x1="79.77" y1="267.20" x2="79.77" y2="269.20" stroke="#000" stroke-width="0.8"/>
<line x1="80.42" y1="267.20" x2="80.42" y2="269.20" stroke="#000" stroke-width="0.8"/>
<line x1="84.82" y1="267.20" x2="84.82" y2="269.20" stroke="#000" stroke-width="0.8"/>
<line x1="87.06" y1="267.20" x2="87.06" y2="269.20" stroke="#000" stroke-width="0.8"/>
<line x1="88.65" y1="267.20" x2="88.65" y2="269.20" stroke="#000" stroke-width="0.8"/>
<line x1="89.88" y1="267.20" x2="89.88" y2="269.20" stroke="#000" stroke-width="0.8"/>
<line x1="90.88" y1="267.20" x2="90.88" y2="269.20" stroke="#000" stroke-width="0.8"/>
<line x1="91.73" y1="267.20" x2="91.73" y2="269.20" stroke="#000" stroke-width="0.8"/>
<line x1="92.47" y1="267.20" x2="92.47" y2="269.20" stroke="#000" stroke-width="0.8"/>
<line x1="93.12" y1="267.20" x2="93.12" y2="269.20" stroke="#000" stroke-width="0.8"/>
<line x1="97.52" y1="267.20" x2="97.52" y2="269.20" stroke="#000" stroke-width="0.8"/>
<line x1="99.76" y1="267.20" x2="99.76" y2="269.20" stroke="#000" stroke-width="0.8"/>
<line x1="101.35" y1="267.20" x2="101.35" y2="269.20" stroke="#000" stroke-width="0.8"/>
<line x1="51.10" y1="267.20" x2="51.10" y2="269.20" stroke="#000" stroke-width="0.8"/>
<line x1="52.60" y1="267.20" x2="52.60" y2="269.20" stroke="#000" stroke-width="0.8"/>
<line x1="54.10" y1="267.20" x2="54.10" y2="269.20" stroke="#000" stroke-width="0.8"/>
<line x1="57.10" y1="267.20" x2="57.10" y2="269.20" stroke="#000" stroke-width="0.8"/>
<line x1="58.60" y1="267.20" x2="58.60" y2="269.20" stroke="#000" stroke-width="0.8"/>
<line x1="55.60" y1="267.20" x2="55.60" y2="270.60" stroke="#000" stroke-width="1.0"/>
<line x1="68.30" y1="267.20" x2="68.30" y2="270.60" stroke="#000" stroke-width="1.0"/>
<line x1="81.00" y1="267.20" x2="81.00" y2="270.60" stroke="#000" stroke-width="1.0"/>
<line x1="93.70" y1="267.20" x2="93.70" y2="270.60" stroke="#000" stroke-width="1.0"/>
<text x="37.87" y="268.95" font-size="7.2" fill="#231f20" stroke="#231f20" stroke-width="0.13" textLength="4.03" lengthAdjust="spacingAndGlyphs">0</text>
<text x="33.84" y="258.85" font-size="7.2" fill="#231f20" stroke="#231f20" stroke-width="0.13" textLength="8.06" lengthAdjust="spacingAndGlyphs">20</text>
<text x="33.84" y="248.75" font-size="7.2" fill="#231f20" stroke="#231f20" stroke-width="0.13" textLength="8.06" lengthAdjust="spacingAndGlyphs">40</text>
<text x="33.84" y="238.65" font-size="7.2" fill="#231f20" stroke="#231f20" stroke-width="0.13" textLength="8.06" lengthAdjust="spacingAndGlyphs">60</text>
<text x="33.84" y="228.55" font-size="7.2" fill="#231f20" stroke="#231f20" stroke-width="0.13" textLength="8.06" lengthAdjust="spacingAndGlyphs">80</text>
<text x="29.81" y="218.45" font-size="7.2" fill="#231f20" stroke="#231f20" stroke-width="0.13" textLength="12.09" lengthAdjust="spacingAndGlyphs">100</text>
<path d="M116.10,267.00 C116.33,266.07 117.05,264.15 117.50,261.40 C117.95,258.65 118.35,255.02 118.80,250.50 C119.25,245.98 119.82,238.47 120.20,234.30 C120.58,230.13 120.77,225.50 121.10,225.50 C121.43,225.50 121.80,229.68 122.20,234.30 C122.60,238.92 123.05,248.58 123.50,253.20 C123.95,257.82 124.45,259.97 124.90,262.00 C125.35,264.03 125.82,264.57 126.20,265.40 C126.58,266.23 127.03,266.73 127.20,267.00 Z" fill="#c8102e"/>
<path d="M131.60,267.00 C131.95,266.28 133.02,264.77 133.70,262.70 C134.38,260.63 135.03,257.75 135.70,254.60 C136.37,251.45 137.08,248.08 137.70,243.80 C138.32,239.52 138.95,231.72 139.40,228.90 C139.85,226.08 140.00,227.53 140.40,226.90 C140.80,226.27 141.38,223.87 141.80,225.10 C142.22,226.33 142.50,230.28 142.90,234.30 C143.30,238.32 143.72,244.92 144.20,249.20 C144.68,253.48 145.25,257.42 145.80,260.00 C146.35,262.58 147.05,263.53 147.50,264.70 C147.95,265.87 148.33,266.62 148.50,267.00 Z" fill="#0f4c86"/>
<rect x="110.40" y="213.30" width="55.00" height="53.90" fill="none" stroke="#000" stroke-width="1.1"/>
<line x1="107.10" y1="266.40" x2="110.40" y2="266.40" stroke="#000" stroke-width="0.9"/>
<line x1="108.40" y1="264.38" x2="110.40" y2="264.38" stroke="#000" stroke-width="0.75"/>
<line x1="108.40" y1="262.36" x2="110.40" y2="262.36" stroke="#000" stroke-width="0.75"/>
<line x1="108.40" y1="260.34" x2="110.40" y2="260.34" stroke="#000" stroke-width="0.75"/>
<line x1="108.40" y1="258.32" x2="110.40" y2="258.32" stroke="#000" stroke-width="0.75"/>
<line x1="107.10" y1="256.30" x2="110.40" y2="256.30" stroke="#000" stroke-width="0.9"/>
<line x1="108.40" y1="254.28" x2="110.40" y2="254.28" stroke="#000" stroke-width="0.75"/>
<line x1="108.40" y1="252.26" x2="110.40" y2="252.26" stroke="#000" stroke-width="0.75"/>
<line x1="108.40" y1="250.24" x2="110.40" y2="250.24" stroke="#000" stroke-width="0.75"/>
<line x1="108.40" y1="248.22" x2="110.40" y2="248.22" stroke="#000" stroke-width="0.75"/>
<line x1="107.10" y1="246.20" x2="110.40" y2="246.20" stroke="#000" stroke-width="0.9"/>
<line x1="108.40" y1="244.18" x2="110.40" y2="244.18" stroke="#000" stroke-width="0.75"/>
<line x1="108.40" y1="242.16" x2="110.40" y2="242.16" stroke="#000" stroke-width="0.75"/>
<line x1="108.40" y1="240.14" x2="110.40" y2="240.14" stroke="#000" stroke-width="0.75"/>
<line x1="108.40" y1="238.12" x2="110.40" y2="238.12" stroke="#000" stroke-width="0.75"/>
<line x1="107.10" y1="236.10" x2="110.40" y2="236.10" stroke="#000" stroke-width="0.9"/>
<line x1="108.40" y1="234.08" x2="110.40" y2="234.08" stroke="#000" stroke-width="0.75"/>
<line x1="108.40" y1="232.06" x2="110.40" y2="232.06" stroke="#000" stroke-width="0.75"/>
<line x1="108.40" y1="230.04" x2="110.40" y2="230.04" stroke="#000" stroke-width="0.75"/>
<line x1="108.40" y1="228.02" x2="110.40" y2="228.02" stroke="#000" stroke-width="0.75"/>
<line x1="107.10" y1="226.00" x2="110.40" y2="226.00" stroke="#000" stroke-width="0.9"/>
<line x1="108.40" y1="223.98" x2="110.40" y2="223.98" stroke="#000" stroke-width="0.75"/>
<line x1="108.40" y1="221.96" x2="110.40" y2="221.96" stroke="#000" stroke-width="0.75"/>
<line x1="108.40" y1="219.94" x2="110.40" y2="219.94" stroke="#000" stroke-width="0.75"/>
<line x1="108.40" y1="217.92" x2="110.40" y2="217.92" stroke="#000" stroke-width="0.75"/>
<line x1="107.10" y1="215.90" x2="110.40" y2="215.90" stroke="#000" stroke-width="0.9"/>
<line x1="112.35" y1="267.20" x2="112.35" y2="269.20" stroke="#000" stroke-width="0.8"/>
<line x1="113.58" y1="267.20" x2="113.58" y2="269.20" stroke="#000" stroke-width="0.8"/>
<line x1="114.58" y1="267.20" x2="114.58" y2="269.20" stroke="#000" stroke-width="0.8"/>
<line x1="115.43" y1="267.20" x2="115.43" y2="269.20" stroke="#000" stroke-width="0.8"/>
<line x1="116.17" y1="267.20" x2="116.17" y2="269.20" stroke="#000" stroke-width="0.8"/>
<line x1="116.82" y1="267.20" x2="116.82" y2="269.20" stroke="#000" stroke-width="0.8"/>
<line x1="121.22" y1="267.20" x2="121.22" y2="269.20" stroke="#000" stroke-width="0.8"/>
<line x1="123.46" y1="267.20" x2="123.46" y2="269.20" stroke="#000" stroke-width="0.8"/>
<line x1="125.05" y1="267.20" x2="125.05" y2="269.20" stroke="#000" stroke-width="0.8"/>
<line x1="126.28" y1="267.20" x2="126.28" y2="269.20" stroke="#000" stroke-width="0.8"/>
<line x1="127.28" y1="267.20" x2="127.28" y2="269.20" stroke="#000" stroke-width="0.8"/>
<line x1="128.13" y1="267.20" x2="128.13" y2="269.20" stroke="#000" stroke-width="0.8"/>
<line x1="128.87" y1="267.20" x2="128.87" y2="269.20" stroke="#000" stroke-width="0.8"/>
<line x1="129.52" y1="267.20" x2="129.52" y2="269.20" stroke="#000" stroke-width="0.8"/>
<line x1="133.92" y1="267.20" x2="133.92" y2="269.20" stroke="#000" stroke-width="0.8"/>
<line x1="136.16" y1="267.20" x2="136.16" y2="269.20" stroke="#000" stroke-width="0.8"/>
<line x1="137.75" y1="267.20" x2="137.75" y2="269.20" stroke="#000" stroke-width="0.8"/>
<line x1="138.98" y1="267.20" x2="138.98" y2="269.20" stroke="#000" stroke-width="0.8"/>
<line x1="139.98" y1="267.20" x2="139.98" y2="269.20" stroke="#000" stroke-width="0.8"/>
<line x1="140.83" y1="267.20" x2="140.83" y2="269.20" stroke="#000" stroke-width="0.8"/>
<line x1="141.57" y1="267.20" x2="141.57" y2="269.20" stroke="#000" stroke-width="0.8"/>
<line x1="142.22" y1="267.20" x2="142.22" y2="269.20" stroke="#000" stroke-width="0.8"/>
<line x1="146.62" y1="267.20" x2="146.62" y2="269.20" stroke="#000" stroke-width="0.8"/>
<line x1="148.86" y1="267.20" x2="148.86" y2="269.20" stroke="#000" stroke-width="0.8"/>
<line x1="150.45" y1="267.20" x2="150.45" y2="269.20" stroke="#000" stroke-width="0.8"/>
<line x1="151.68" y1="267.20" x2="151.68" y2="269.20" stroke="#000" stroke-width="0.8"/>
<line x1="152.68" y1="267.20" x2="152.68" y2="269.20" stroke="#000" stroke-width="0.8"/>
<line x1="153.53" y1="267.20" x2="153.53" y2="269.20" stroke="#000" stroke-width="0.8"/>
<line x1="154.27" y1="267.20" x2="154.27" y2="269.20" stroke="#000" stroke-width="0.8"/>
<line x1="154.92" y1="267.20" x2="154.92" y2="269.20" stroke="#000" stroke-width="0.8"/>
<line x1="159.32" y1="267.20" x2="159.32" y2="269.20" stroke="#000" stroke-width="0.8"/>
<line x1="161.56" y1="267.20" x2="161.56" y2="269.20" stroke="#000" stroke-width="0.8"/>
<line x1="163.15" y1="267.20" x2="163.15" y2="269.20" stroke="#000" stroke-width="0.8"/>
<line x1="164.38" y1="267.20" x2="164.38" y2="269.20" stroke="#000" stroke-width="0.8"/>
<line x1="112.90" y1="267.20" x2="112.90" y2="269.20" stroke="#000" stroke-width="0.8"/>
<line x1="114.40" y1="267.20" x2="114.40" y2="269.20" stroke="#000" stroke-width="0.8"/>
<line x1="115.90" y1="267.20" x2="115.90" y2="269.20" stroke="#000" stroke-width="0.8"/>
<line x1="118.90" y1="267.20" x2="118.90" y2="269.20" stroke="#000" stroke-width="0.8"/>
<line x1="120.40" y1="267.20" x2="120.40" y2="269.20" stroke="#000" stroke-width="0.8"/>
<line x1="117.40" y1="267.20" x2="117.40" y2="270.60" stroke="#000" stroke-width="1.0"/>
<line x1="130.10" y1="267.20" x2="130.10" y2="270.60" stroke="#000" stroke-width="1.0"/>
<line x1="142.80" y1="267.20" x2="142.80" y2="270.60" stroke="#000" stroke-width="1.0"/>
<line x1="155.50" y1="267.20" x2="155.50" y2="270.60" stroke="#000" stroke-width="1.0"/>
<text x="55.50" y="279.90" font-size="8.0" fill="#231f20" stroke="#231f20" stroke-width="0.13" text-anchor="middle" textLength="4.10" lengthAdjust="spacingAndGlyphs">0</text>
<text x="65.00" y="279.90" font-size="8.1" fill="#231f20" stroke="#231f20" stroke-width="0.13" textLength="8.10" lengthAdjust="spacingAndGlyphs">10</text>
<text x="73.20" y="276.50" font-size="5.8" fill="#231f20" stroke="#231f20" stroke-width="0.13" textLength="3.10" lengthAdjust="spacingAndGlyphs">3</text>
<text x="77.70" y="279.90" font-size="8.1" fill="#231f20" stroke="#231f20" stroke-width="0.13" textLength="8.10" lengthAdjust="spacingAndGlyphs">10</text>
<text x="85.90" y="276.50" font-size="5.8" fill="#231f20" stroke="#231f20" stroke-width="0.13" textLength="3.10" lengthAdjust="spacingAndGlyphs">4</text>
<text x="90.40" y="279.90" font-size="8.1" fill="#231f20" stroke="#231f20" stroke-width="0.13" textLength="8.10" lengthAdjust="spacingAndGlyphs">10</text>
<text x="98.60" y="276.50" font-size="5.8" fill="#231f20" stroke="#231f20" stroke-width="0.13" textLength="3.10" lengthAdjust="spacingAndGlyphs">5</text>
<text x="117.30" y="279.90" font-size="8.0" fill="#231f20" stroke="#231f20" stroke-width="0.13" text-anchor="middle" textLength="4.10" lengthAdjust="spacingAndGlyphs">0</text>
<text x="126.80" y="279.90" font-size="8.1" fill="#231f20" stroke="#231f20" stroke-width="0.13" textLength="8.10" lengthAdjust="spacingAndGlyphs">10</text>
<text x="135.00" y="276.50" font-size="5.8" fill="#231f20" stroke="#231f20" stroke-width="0.13" textLength="3.10" lengthAdjust="spacingAndGlyphs">3</text>
<text x="139.50" y="279.90" font-size="8.1" fill="#231f20" stroke="#231f20" stroke-width="0.13" textLength="8.10" lengthAdjust="spacingAndGlyphs">10</text>
<text x="147.70" y="276.50" font-size="5.8" fill="#231f20" stroke="#231f20" stroke-width="0.13" textLength="3.10" lengthAdjust="spacingAndGlyphs">4</text>
<text x="152.20" y="279.90" font-size="8.1" fill="#231f20" stroke="#231f20" stroke-width="0.13" textLength="8.10" lengthAdjust="spacingAndGlyphs">10</text>
<text x="160.40" y="276.50" font-size="5.8" fill="#231f20" stroke="#231f20" stroke-width="0.13" textLength="3.10" lengthAdjust="spacingAndGlyphs">5</text>
<text x="60.80" y="293.10" font-size="9.6" fill="#231f20" stroke="#231f20" stroke-width="0.13" textLength="29.60" lengthAdjust="spacingAndGlyphs">CD16/32</text>
<text x="128.80" y="293.10" font-size="9.6" fill="#231f20" stroke="#231f20" stroke-width="0.13" textLength="18.50" lengthAdjust="spacingAndGlyphs">CD64</text>
<text x="169.00" y="156.60" font-size="8.2" fill="#231f20" stroke="#231f20" stroke-width="0.13" textLength="23.70" lengthAdjust="spacingAndGlyphs">Spleen</text>
<text x="169.00" y="222.50" font-size="8.2" fill="#231f20" stroke="#231f20" stroke-width="0.13" textLength="19.00" lengthAdjust="spacingAndGlyphs">Bone</text>
<text x="169.00" y="231.70" font-size="8.2" fill="#231f20" stroke="#231f20" stroke-width="0.13" textLength="27.00" lengthAdjust="spacingAndGlyphs">marrow</text>
<line x1="20.30" y1="157.00" x2="20.30" y2="240.00" stroke="#000" stroke-width="1"/>
<path d="M17.1,160.6 L20.3,150.6 L23.5,160.6 Z" fill="#000"/>
<text x="0.00" y="0.00" font-size="9.6" fill="#231f20" stroke="#231f20" stroke-width="0.13" text-anchor="middle" textLength="18.70" lengthAdjust="spacingAndGlyphs" transform="translate(23.2,253.0) rotate(-90)">Mode</text>
<text x="0" y="0" font-size="12.3" font-weight="bold" fill="#000" transform="translate(232.90,143.40) scale(0.869,1)">D</text>
<circle cx="242.70" cy="160.90" r="3.1" fill="#c8102e"/>
<text x="248.00" y="162.70" font-size="7.2" fill="#231f20" stroke="#231f20" stroke-width="0.13" textLength="24.10" lengthAdjust="spacingAndGlyphs">Isotype</text>
<circle cx="242.70" cy="174.50" r="3.1" fill="#0f4c86"/>
<text x="248.00" y="173.80" font-size="7.2" fill="#2f6da8" stroke="#2f6da8" stroke-width="0.13" textLength="15.90" lengthAdjust="spacingAndGlyphs">7C6-</text>
<text x="248.00" y="183.20" font-size="7.2" fill="#2f6da8" stroke="#2f6da8" stroke-width="0.13" textLength="26.00" lengthAdjust="spacingAndGlyphs">mIgG2a</text>
<text x="296.90" y="175.50" font-size="10.4" fill="#231f20" stroke="#231f20" stroke-width="0.13" textLength="24.90" lengthAdjust="spacingAndGlyphs">Blood</text>
<text x="424.90" y="175.50" font-size="10.4" fill="#231f20" stroke="#231f20" stroke-width="0.13" textLength="56.70" lengthAdjust="spacingAndGlyphs">Bone marrow</text>
<line x1="260.80" y1="195.00" x2="260.80" y2="271.80" stroke="#000" stroke-width="1.1"/>
<line x1="260.30" y1="271.30" x2="355.00" y2="271.30" stroke="#000" stroke-width="1.1"/>
<line x1="257.60" y1="271.30" x2="260.80" y2="271.30" stroke="#000" stroke-width="1"/>
<text x="244.00" y="273.90" font-size="7.7" fill="#231f20" stroke="#231f20" stroke-width="0.13" textLength="8.00" lengthAdjust="spacingAndGlyphs">10</text>
<text x="252.10" y="270.00" font-size="5.6" fill="#231f20" stroke="#231f20" stroke-width="0.13" textLength="3.30" lengthAdjust="spacingAndGlyphs">2</text>
<line x1="257.60" y1="256.14" x2="260.80" y2="256.14" stroke="#000" stroke-width="1"/>
<text x="244.00" y="258.74" font-size="7.7" fill="#231f20" stroke="#231f20" stroke-width="0.13" textLength="8.00" lengthAdjust="spacingAndGlyphs">10</text>
<text x="252.10" y="254.84" font-size="5.6" fill="#231f20" stroke="#231f20" stroke-width="0.13" textLength="3.30" lengthAdjust="spacingAndGlyphs">3</text>
<line x1="257.60" y1="240.98" x2="260.80" y2="240.98" stroke="#000" stroke-width="1"/>
<text x="244.00" y="243.58" font-size="7.7" fill="#231f20" stroke="#231f20" stroke-width="0.13" textLength="8.00" lengthAdjust="spacingAndGlyphs">10</text>
<text x="252.10" y="239.68" font-size="5.6" fill="#231f20" stroke="#231f20" stroke-width="0.13" textLength="3.30" lengthAdjust="spacingAndGlyphs">4</text>
<line x1="257.60" y1="225.82" x2="260.80" y2="225.82" stroke="#000" stroke-width="1"/>
<text x="244.00" y="228.42" font-size="7.7" fill="#231f20" stroke="#231f20" stroke-width="0.13" textLength="8.00" lengthAdjust="spacingAndGlyphs">10</text>
<text x="252.10" y="224.52" font-size="5.6" fill="#231f20" stroke="#231f20" stroke-width="0.13" textLength="3.30" lengthAdjust="spacingAndGlyphs">5</text>
<line x1="257.60" y1="210.66" x2="260.80" y2="210.66" stroke="#000" stroke-width="1"/>
<text x="244.00" y="213.26" font-size="7.7" fill="#231f20" stroke="#231f20" stroke-width="0.13" textLength="8.00" lengthAdjust="spacingAndGlyphs">10</text>
<text x="252.10" y="209.36" font-size="5.6" fill="#231f20" stroke="#231f20" stroke-width="0.13" textLength="3.30" lengthAdjust="spacingAndGlyphs">6</text>
<line x1="257.60" y1="195.50" x2="260.80" y2="195.50" stroke="#000" stroke-width="1"/>
<text x="244.00" y="198.10" font-size="7.7" fill="#231f20" stroke="#231f20" stroke-width="0.13" textLength="8.00" lengthAdjust="spacingAndGlyphs">10</text>
<text x="252.10" y="194.20" font-size="5.6" fill="#231f20" stroke="#231f20" stroke-width="0.13" textLength="3.30" lengthAdjust="spacingAndGlyphs">7</text>
<line x1="283.50" y1="271.30" x2="283.50" y2="274.30" stroke="#000" stroke-width="1"/>
<line x1="334.40" y1="271.30" x2="334.40" y2="274.30" stroke="#000" stroke-width="1"/>
<text x="0.00" y="0.00" font-size="8.2" fill="#231f20" stroke="#231f20" stroke-width="0.13" text-anchor="middle" textLength="43.50" lengthAdjust="spacingAndGlyphs" transform="translate(237.8,234.3) rotate(-90)">AML cells/mL</text>
<text x="270.00" y="284.40" font-size="8.3" fill="#231f20" stroke="#231f20" stroke-width="0.13" textLength="26.20" lengthAdjust="spacingAndGlyphs">Control</text>
<text x="313.80" y="284.40" font-size="8.3" fill="#231f20" stroke="#231f20" stroke-width="0.13" textLength="40.40" lengthAdjust="spacingAndGlyphs">Clodronate</text>
<rect x="268.05" y="212.75" width="11.60" height="58.55" fill="#de8692" stroke="#d77383" stroke-width="0.7"/>
<rect x="287.35" y="226.35" width="11.10" height="44.95" fill="#88abcb" stroke="#7a9fc2" stroke-width="0.7"/>
<rect x="319.25" y="213.35" width="11.30" height="57.95" fill="#de8692" stroke="#d77383" stroke-width="0.7"/>
<rect x="338.45" y="213.35" width="11.40" height="57.95" fill="#88abcb" stroke="#7a9fc2" stroke-width="0.7"/>
<circle cx="273.50" cy="200.50" r="1.65" fill="#c8102e"/>
<circle cx="270.80" cy="204.30" r="1.65" fill="#c8102e"/>
<circle cx="276.20" cy="204.30" r="1.65" fill="#c8102e"/>
<circle cx="273.50" cy="208.40" r="1.65" fill="#c8102e"/>
<circle cx="273.50" cy="210.60" r="1.65" fill="#c8102e"/>
<circle cx="271.50" cy="213.80" r="1.65" fill="#c8102e"/>
<circle cx="274.40" cy="214.50" r="1.65" fill="#c8102e"/>
<circle cx="273.50" cy="219.20" r="1.65" fill="#c8102e"/>
<circle cx="273.50" cy="224.60" r="1.65" fill="#c8102e"/>
<circle cx="273.50" cy="227.30" r="1.65" fill="#c8102e"/>
<circle cx="293.10" cy="211.40" r="1.65" fill="#0f4c86"/>
<circle cx="293.10" cy="216.50" r="1.65" fill="#0f4c86"/>
<circle cx="287.70" cy="226.00" r="1.65" fill="#0f4c86"/>
<circle cx="297.80" cy="223.90" r="1.65" fill="#0f4c86"/>
<circle cx="295.10" cy="224.60" r="1.65" fill="#0f4c86"/>
<circle cx="291.30" cy="224.80" r="1.65" fill="#0f4c86"/>
<circle cx="291.10" cy="228.20" r="1.65" fill="#0f4c86"/>
<circle cx="294.40" cy="231.40" r="1.65" fill="#0f4c86"/>
<circle cx="293.00" cy="234.00" r="1.65" fill="#0f4c86"/>
<circle cx="292.40" cy="256.20" r="1.65" fill="#0f4c86"/>
<circle cx="321.90" cy="202.50" r="1.65" fill="#c8102e"/>
<circle cx="327.30" cy="202.50" r="1.65" fill="#c8102e"/>
<circle cx="324.60" cy="206.10" r="1.65" fill="#c8102e"/>
<circle cx="324.60" cy="209.80" r="1.65" fill="#c8102e"/>
<circle cx="319.20" cy="217.50" r="1.65" fill="#c8102e"/>
<circle cx="323.00" cy="217.80" r="1.65" fill="#c8102e"/>
<circle cx="330.00" cy="217.50" r="1.65" fill="#c8102e"/>
<circle cx="324.60" cy="234.10" r="1.65" fill="#c8102e"/>
<circle cx="339.00" cy="209.80" r="1.65" fill="#0f4c86"/>
<circle cx="341.80" cy="210.70" r="1.65" fill="#0f4c86"/>
<circle cx="346.30" cy="210.70" r="1.65" fill="#0f4c86"/>
<circle cx="349.30" cy="212.50" r="1.65" fill="#0f4c86"/>
<circle cx="339.00" cy="212.70" r="1.65" fill="#0f4c86"/>
<circle cx="344.50" cy="218.80" r="1.65" fill="#0f4c86"/>
<circle cx="344.10" cy="239.50" r="1.65" fill="#0f4c86"/>
<line x1="273.90" y1="204.30" x2="273.90" y2="220.10" stroke="#000" stroke-width="1.5"/>
<line x1="270.90" y1="204.30" x2="276.90" y2="204.30" stroke="#000" stroke-width="1.5"/>
<line x1="270.90" y1="220.10" x2="276.90" y2="220.10" stroke="#000" stroke-width="1.5"/>
<line x1="293.10" y1="221.00" x2="293.10" y2="232.00" stroke="#000" stroke-width="1.5"/>
<line x1="290.10" y1="221.00" x2="296.10" y2="221.00" stroke="#000" stroke-width="1.5"/>
<line x1="290.10" y1="232.00" x2="296.10" y2="232.00" stroke="#000" stroke-width="1.5"/>
<line x1="324.60" y1="202.50" x2="324.60" y2="218.80" stroke="#000" stroke-width="1.5"/>
<line x1="321.60" y1="202.50" x2="327.60" y2="202.50" stroke="#000" stroke-width="1.5"/>
<line x1="321.60" y1="218.80" x2="327.60" y2="218.80" stroke="#000" stroke-width="1.5"/>
<line x1="344.10" y1="210.70" x2="344.10" y2="217.90" stroke="#000" stroke-width="1.5"/>
<line x1="341.10" y1="210.70" x2="347.10" y2="210.70" stroke="#000" stroke-width="1.5"/>
<line x1="341.10" y1="217.90" x2="347.10" y2="217.90" stroke="#000" stroke-width="1.5"/>
<line x1="290.50" y1="185.40" x2="346.60" y2="185.40" stroke="#000" stroke-width="1"/>
<path d="M318.30,180.70L318.30,183.70M317.00,181.45L319.60,182.95M317.00,182.95L319.60,181.45" stroke="#231f20" stroke-width="1.0" fill="none"/>
<line x1="273.80" y1="196.80" x2="295.40" y2="196.80" stroke="#000" stroke-width="1"/>
<path d="M283.60,192.00L283.60,195.00M282.30,192.75L284.90,194.25M282.30,194.25L284.90,192.75M287.00,192.00L287.00,195.00M285.70,192.75L288.30,194.25M285.70,194.25L288.30,192.75" stroke="#231f20" stroke-width="1.0" fill="none"/>
<line x1="325.00" y1="197.30" x2="346.60" y2="197.30" stroke="#000" stroke-width="1"/>
<text x="321.4" y="194.4" font-size="8.3" fill="#231f20" textLength="25.2" lengthAdjust="spacingAndGlyphs"><tspan font-style="italic">p</tspan>=0.50</text>
<line x1="404.30" y1="195.20" x2="404.30" y2="271.80" stroke="#000" stroke-width="1.1"/>
<line x1="403.80" y1="271.30" x2="501.40" y2="271.30" stroke="#000" stroke-width="1.1"/>
<line x1="401.10" y1="271.30" x2="404.30" y2="271.30" stroke="#000" stroke-width="1"/>
<text x="387.70" y="273.90" font-size="7.7" fill="#231f20" stroke="#231f20" stroke-width="0.13" textLength="8.20" lengthAdjust="spacingAndGlyphs">10</text>
<text x="396.00" y="270.00" font-size="5.6" fill="#231f20" stroke="#231f20" stroke-width="0.13" textLength="3.30" lengthAdjust="spacingAndGlyphs">2</text>
<line x1="401.10" y1="256.18" x2="404.30" y2="256.18" stroke="#000" stroke-width="1"/>
<text x="387.70" y="258.78" font-size="7.7" fill="#231f20" stroke="#231f20" stroke-width="0.13" textLength="8.20" lengthAdjust="spacingAndGlyphs">10</text>
<text x="396.00" y="254.88" font-size="5.6" fill="#231f20" stroke="#231f20" stroke-width="0.13" textLength="3.30" lengthAdjust="spacingAndGlyphs">3</text>
<line x1="401.10" y1="241.06" x2="404.30" y2="241.06" stroke="#000" stroke-width="1"/>
<text x="387.70" y="243.66" font-size="7.7" fill="#231f20" stroke="#231f20" stroke-width="0.13" textLength="8.20" lengthAdjust="spacingAndGlyphs">10</text>
<text x="396.00" y="239.76" font-size="5.6" fill="#231f20" stroke="#231f20" stroke-width="0.13" textLength="3.30" lengthAdjust="spacingAndGlyphs">4</text>
<line x1="401.10" y1="225.94" x2="404.30" y2="225.94" stroke="#000" stroke-width="1"/>
<text x="387.70" y="228.54" font-size="7.7" fill="#231f20" stroke="#231f20" stroke-width="0.13" textLength="8.20" lengthAdjust="spacingAndGlyphs">10</text>
<text x="396.00" y="224.64" font-size="5.6" fill="#231f20" stroke="#231f20" stroke-width="0.13" textLength="3.30" lengthAdjust="spacingAndGlyphs">5</text>
<line x1="401.10" y1="210.82" x2="404.30" y2="210.82" stroke="#000" stroke-width="1"/>
<text x="387.70" y="213.42" font-size="7.7" fill="#231f20" stroke="#231f20" stroke-width="0.13" textLength="8.20" lengthAdjust="spacingAndGlyphs">10</text>
<text x="396.00" y="209.52" font-size="5.6" fill="#231f20" stroke="#231f20" stroke-width="0.13" textLength="3.30" lengthAdjust="spacingAndGlyphs">6</text>
<line x1="401.10" y1="195.70" x2="404.30" y2="195.70" stroke="#000" stroke-width="1"/>
<text x="387.70" y="198.30" font-size="7.7" fill="#231f20" stroke="#231f20" stroke-width="0.13" textLength="8.20" lengthAdjust="spacingAndGlyphs">10</text>
<text x="396.00" y="194.40" font-size="5.6" fill="#231f20" stroke="#231f20" stroke-width="0.13" textLength="3.30" lengthAdjust="spacingAndGlyphs">7</text>
<line x1="426.60" y1="271.30" x2="426.60" y2="274.30" stroke="#000" stroke-width="1"/>
<line x1="478.20" y1="271.30" x2="478.20" y2="274.30" stroke="#000" stroke-width="1"/>
<text x="0.00" y="0.00" font-size="8.2" fill="#231f20" stroke="#231f20" stroke-width="0.13" text-anchor="middle" textLength="53.50" lengthAdjust="spacingAndGlyphs" transform="translate(380.4,233.7) rotate(-90)">AML cells/femur</text>
<text x="414.00" y="284.40" font-size="8.3" fill="#231f20" stroke="#231f20" stroke-width="0.13" textLength="26.20" lengthAdjust="spacingAndGlyphs">Control</text>
<text x="458.60" y="284.40" font-size="8.3" fill="#231f20" stroke="#231f20" stroke-width="0.13" textLength="40.40" lengthAdjust="spacingAndGlyphs">Clodronate</text>
<rect x="411.55" y="235.35" width="11.80" height="35.95" fill="#de8692" stroke="#d77383" stroke-width="0.7"/>
<rect x="431.45" y="260.05" width="10.20" height="11.25" fill="#88abcb" stroke="#7a9fc2" stroke-width="0.7"/>
<rect x="463.15" y="235.75" width="10.90" height="35.55" fill="#de8692" stroke="#d77383" stroke-width="0.7"/>
<rect x="482.55" y="242.55" width="10.90" height="28.75" fill="#88abcb" stroke="#7a9fc2" stroke-width="0.7"/>
<circle cx="415.60" cy="208.00" r="1.65" fill="#c8102e"/>
<circle cx="419.10" cy="206.60" r="1.65" fill="#c8102e"/>
<circle cx="417.40" cy="220.80" r="1.65" fill="#c8102e"/>
<circle cx="417.40" cy="223.40" r="1.65" fill="#c8102e"/>
<circle cx="411.70" cy="233.30" r="1.65" fill="#c8102e"/>
<circle cx="415.60" cy="235.70" r="1.65" fill="#c8102e"/>
<circle cx="419.10" cy="233.30" r="1.65" fill="#c8102e"/>
<circle cx="422.50" cy="235.40" r="1.65" fill="#c8102e"/>
<circle cx="417.70" cy="240.90" r="1.65" fill="#c8102e"/>
<circle cx="416.80" cy="242.50" r="1.65" fill="#c8102e"/>
<circle cx="434.50" cy="234.50" r="1.65" fill="#0f4c86"/>
<circle cx="438.20" cy="234.50" r="1.65" fill="#0f4c86"/>
<circle cx="431.40" cy="256.80" r="1.65" fill="#0f4c86"/>
<circle cx="434.80" cy="258.00" r="1.65" fill="#0f4c86"/>
<circle cx="438.20" cy="256.80" r="1.65" fill="#0f4c86"/>
<circle cx="441.70" cy="259.00" r="1.65" fill="#0f4c86"/>
<circle cx="434.50" cy="265.30" r="1.65" fill="#0f4c86"/>
<circle cx="437.40" cy="266.50" r="1.65" fill="#0f4c86"/>
<circle cx="436.20" cy="269.30" r="1.65" fill="#0f4c86"/>
<circle cx="463.40" cy="220.50" r="1.65" fill="#c8102e"/>
<circle cx="468.60" cy="221.30" r="1.65" fill="#c8102e"/>
<circle cx="473.80" cy="220.90" r="1.65" fill="#c8102e"/>
<circle cx="465.70" cy="234.40" r="1.65" fill="#c8102e"/>
<circle cx="471.10" cy="234.80" r="1.65" fill="#c8102e"/>
<circle cx="468.20" cy="240.70" r="1.65" fill="#c8102e"/>
<circle cx="468.60" cy="264.50" r="1.65" fill="#c8102e"/>
<circle cx="487.60" cy="210.80" r="1.65" fill="#0f4c86"/>
<circle cx="487.60" cy="215.10" r="1.65" fill="#0f4c86"/>
<circle cx="482.70" cy="241.20" r="1.65" fill="#0f4c86"/>
<circle cx="488.00" cy="242.20" r="1.65" fill="#0f4c86"/>
<circle cx="492.80" cy="239.90" r="1.65" fill="#0f4c86"/>
<circle cx="485.10" cy="245.10" r="1.65" fill="#0f4c86"/>
<circle cx="492.40" cy="244.10" r="1.65" fill="#0f4c86"/>
<circle cx="487.60" cy="260.60" r="1.65" fill="#0f4c86"/>
<line x1="417.40" y1="214.50" x2="417.40" y2="237.10" stroke="#000" stroke-width="1.5"/>
<line x1="414.40" y1="214.50" x2="420.40" y2="214.50" stroke="#000" stroke-width="1.5"/>
<line x1="414.40" y1="237.10" x2="420.40" y2="237.10" stroke="#000" stroke-width="1.5"/>
<line x1="437.40" y1="243.10" x2="437.40" y2="264.50" stroke="#000" stroke-width="1.5"/>
<line x1="434.40" y1="243.10" x2="440.40" y2="243.10" stroke="#000" stroke-width="1.5"/>
<line x1="434.40" y1="264.50" x2="440.40" y2="264.50" stroke="#000" stroke-width="1.5"/>
<line x1="468.20" y1="220.90" x2="468.20" y2="240.30" stroke="#000" stroke-width="1.5"/>
<line x1="465.20" y1="220.90" x2="471.20" y2="220.90" stroke="#000" stroke-width="1.5"/>
<line x1="465.20" y1="240.30" x2="471.20" y2="240.30" stroke="#000" stroke-width="1.5"/>
<line x1="488.00" y1="217.00" x2="488.00" y2="245.70" stroke="#000" stroke-width="1.5"/>
<line x1="485.00" y1="217.00" x2="491.00" y2="217.00" stroke="#000" stroke-width="1.5"/>
<line x1="485.00" y1="245.70" x2="491.00" y2="245.70" stroke="#000" stroke-width="1.5"/>
<line x1="433.80" y1="191.80" x2="488.40" y2="191.80" stroke="#000" stroke-width="1"/>
<path d="M461.40,186.80L461.40,189.80M460.10,187.55L462.70,189.05M460.10,189.05L462.70,187.55" stroke="#231f20" stroke-width="1.0" fill="none"/>
<line x1="416.80" y1="203.20" x2="438.20" y2="203.20" stroke="#000" stroke-width="1"/>
<path d="M424.50,197.90L424.50,200.90M423.20,198.65L425.80,200.15M423.20,200.15L425.80,198.65M427.90,197.90L427.90,200.90M426.60,198.65L429.20,200.15M426.60,200.15L429.20,198.65M431.30,197.90L431.30,200.90M430.00,198.65L432.60,200.15M430.00,200.15L432.60,198.65" stroke="#231f20" stroke-width="1.0" fill="none"/>
<line x1="467.60" y1="203.40" x2="488.40" y2="203.40" stroke="#000" stroke-width="1"/>
<text x="462.8" y="201.5" font-size="8.3" fill="#231f20" textLength="25.5" lengthAdjust="spacingAndGlyphs"><tspan font-style="italic">p</tspan>=0.44</text>
<text x="0" y="0" font-size="12.3" font-weight="bold" fill="#000" transform="translate(7.90,317.60) scale(0.740,1)">E</text>
<line x1="48.80" y1="324.00" x2="48.80" y2="413.10" stroke="#000" stroke-width="1.1"/>
<line x1="48.30" y1="412.60" x2="168.00" y2="412.60" stroke="#000" stroke-width="1.1"/>
<line x1="45.20" y1="412.60" x2="48.80" y2="412.60" stroke="#000" stroke-width="1"/>
<text x="38.20" y="415.40" font-size="7.9" fill="#231f20" stroke="#231f20" stroke-width="0.13" textLength="4.30" lengthAdjust="spacingAndGlyphs">0</text>
<line x1="45.20" y1="383.23" x2="48.80" y2="383.23" stroke="#000" stroke-width="1"/>
<text x="33.90" y="386.03" font-size="7.9" fill="#231f20" stroke="#231f20" stroke-width="0.13" textLength="8.60" lengthAdjust="spacingAndGlyphs">20</text>
<line x1="45.20" y1="353.87" x2="48.80" y2="353.87" stroke="#000" stroke-width="1"/>
<text x="33.90" y="356.67" font-size="7.9" fill="#231f20" stroke="#231f20" stroke-width="0.13" textLength="8.60" lengthAdjust="spacingAndGlyphs">40</text>
<line x1="45.20" y1="324.50" x2="48.80" y2="324.50" stroke="#000" stroke-width="1"/>
<text x="33.90" y="327.30" font-size="7.9" fill="#231f20" stroke="#231f20" stroke-width="0.13" textLength="8.60" lengthAdjust="spacingAndGlyphs">60</text>
<line x1="77.70" y1="412.60" x2="77.70" y2="415.90" stroke="#000" stroke-width="1"/>
<line x1="138.90" y1="412.60" x2="138.90" y2="415.90" stroke="#000" stroke-width="1"/>
<text font-size="8.0" fill="#231f20" text-anchor="middle" transform="translate(27.5,368.8) rotate(-90)" textLength="80.4" lengthAdjust="spacingAndGlyphs">CFSE<tspan dy="-2.8" font-size="5.4">+</tspan><tspan dy="2.8"> macrophages (%)</tspan></text>
<rect x="54.80" y="391.90" width="11.70" height="20.70" fill="#c8102e"/>
<line x1="60.65" y1="389.30" x2="60.65" y2="391.90" stroke="#c8102e" stroke-width="1.3"/>
<line x1="58.05" y1="389.30" x2="63.25" y2="389.30" stroke="#c8102e" stroke-width="1.3"/>
<rect x="71.90" y="341.00" width="11.50" height="71.60" fill="#0f4c86"/>
<line x1="77.65" y1="336.60" x2="77.65" y2="341.00" stroke="#0f4c86" stroke-width="1.3"/>
<line x1="75.05" y1="336.60" x2="80.25" y2="336.60" stroke="#0f4c86" stroke-width="1.3"/>
<rect x="88.80" y="394.10" width="11.50" height="18.50" fill="#3db54a"/>
<line x1="94.55" y1="383.40" x2="94.55" y2="394.10" stroke="#3db54a" stroke-width="1.3"/>
<line x1="91.95" y1="383.40" x2="97.15" y2="383.40" stroke="#3db54a" stroke-width="1.3"/>
<rect x="116.80" y="400.60" width="11.20" height="12.00" fill="#c8102e"/>
<line x1="122.40" y1="396.40" x2="122.40" y2="400.60" stroke="#c8102e" stroke-width="1.3"/>
<line x1="119.80" y1="396.40" x2="125.00" y2="396.40" stroke="#c8102e" stroke-width="1.3"/>
<rect x="133.10" y="367.40" width="11.80" height="45.20" fill="#0f4c86"/>
<line x1="139.00" y1="359.20" x2="139.00" y2="367.40" stroke="#0f4c86" stroke-width="1.3"/>
<line x1="136.40" y1="359.20" x2="141.60" y2="359.20" stroke="#0f4c86" stroke-width="1.3"/>
<rect x="150.00" y="401.50" width="11.80" height="11.10" fill="#3db54a"/>
<line x1="155.90" y1="397.00" x2="155.90" y2="401.50" stroke="#3db54a" stroke-width="1.3"/>
<line x1="153.30" y1="397.00" x2="158.50" y2="397.00" stroke="#3db54a" stroke-width="1.3"/>
<line x1="58.50" y1="332.90" x2="76.60" y2="332.90" stroke="#000" stroke-width="1"/>
<path d="M64.10,328.10L64.10,331.10M62.80,328.85L65.40,330.35M62.80,330.35L65.40,328.85M67.50,328.10L67.50,331.10M66.20,328.85L68.80,330.35M66.20,330.35L68.80,328.85M70.90,328.10L70.90,331.10M69.60,328.85L72.20,330.35M69.60,330.35L72.20,328.85" stroke="#231f20" stroke-width="1.0" fill="none"/>
<line x1="76.60" y1="325.80" x2="95.10" y2="325.80" stroke="#000" stroke-width="1"/>
<path d="M82.40,321.10L82.40,324.10M81.10,321.85L83.70,323.35M81.10,323.35L83.70,321.85M85.80,321.10L85.80,324.10M84.50,321.85L87.10,323.35M84.50,323.35L87.10,321.85M89.20,321.10L89.20,324.10M87.90,321.85L90.50,323.35M87.90,323.35L90.50,321.85" stroke="#231f20" stroke-width="1.0" fill="none"/>
<line x1="120.40" y1="355.00" x2="138.50" y2="355.00" stroke="#000" stroke-width="1"/>
<path d="M126.10,350.70L126.10,353.70M124.80,351.45L127.40,352.95M124.80,352.95L127.40,351.45M129.50,350.70L129.50,353.70M128.20,351.45L130.80,352.95M128.20,352.95L130.80,351.45M132.90,350.70L132.90,353.70M131.60,351.45L134.20,352.95M131.60,352.95L134.20,351.45" stroke="#231f20" stroke-width="1.0" fill="none"/>
<line x1="137.90" y1="346.50" x2="156.20" y2="346.50" stroke="#000" stroke-width="1"/>
<path d="M143.60,342.20L143.60,345.20M142.30,342.95L144.90,344.45M142.30,344.45L144.90,342.95M147.00,342.20L147.00,345.20M145.70,342.95L148.30,344.45M145.70,344.45L148.30,342.95M150.40,342.20L150.40,345.20M149.10,342.95L151.70,344.45M149.10,344.45L151.70,342.95" stroke="#231f20" stroke-width="1.0" fill="none"/>
<text x="63.90" y="427.40" font-size="8.3" fill="#231f20" stroke="#231f20" stroke-width="0.13" textLength="27.20" lengthAdjust="spacingAndGlyphs">Binding</text>
<text x="67.30" y="436.30" font-size="8.0" fill="#231f20" stroke="#231f20" stroke-width="0.13" textLength="19.70" lengthAdjust="spacingAndGlyphs">(4 °C)</text>
<text x="116.30" y="427.40" font-size="8.3" fill="#231f20" stroke="#231f20" stroke-width="0.13" textLength="46.20" lengthAdjust="spacingAndGlyphs">Phagocytosis</text>
<text x="127.40" y="436.30" font-size="8.0" fill="#231f20" stroke="#231f20" stroke-width="0.13" textLength="24.20" lengthAdjust="spacingAndGlyphs">(37 °C)</text>
<rect x="99.20" y="307.70" width="6.30" height="6.30" fill="#c8102e"/>
<rect x="99.20" y="318.90" width="6.30" height="6.30" fill="#0f4c86"/>
<rect x="99.20" y="329.40" width="6.30" height="6.30" fill="#3db54a"/>
<text x="109.70" y="313.70" font-size="7.6" fill="#231f20" stroke="#231f20" stroke-width="0.13" textLength="24.00" lengthAdjust="spacingAndGlyphs">Isotype</text>
<text x="109.70" y="324.50" font-size="7.6" fill="#2f6da8" stroke="#2f6da8" stroke-width="0.13" textLength="42.30" lengthAdjust="spacingAndGlyphs">7C6-mIgG2a</text>
<text x="109.70" y="335.20" font-size="7.6" fill="#3db54a" stroke="#3db54a" stroke-width="0.13" textLength="37.50" lengthAdjust="spacingAndGlyphs">7C6-DANA</text>
<text x="0" y="0" font-size="12.3" font-weight="bold" fill="#000" transform="translate(197.90,317.60) scale(0.706,1)">F</text>
<line x1="223.00" y1="320.60" x2="223.00" y2="413.90" stroke="#000" stroke-width="1.1"/>
<line x1="222.50" y1="413.40" x2="327.70" y2="413.40" stroke="#000" stroke-width="1.1"/>
<line x1="219.80" y1="413.40" x2="223.00" y2="413.40" stroke="#000" stroke-width="1"/>
<text x="213.70" y="416.20" font-size="7.9" fill="#231f20" stroke="#231f20" stroke-width="0.13" textLength="4.30" lengthAdjust="spacingAndGlyphs">0</text>
<line x1="219.80" y1="382.63" x2="223.00" y2="382.63" stroke="#000" stroke-width="1"/>
<text x="209.40" y="385.43" font-size="7.9" fill="#231f20" stroke="#231f20" stroke-width="0.13" textLength="8.60" lengthAdjust="spacingAndGlyphs">20</text>
<line x1="219.80" y1="351.87" x2="223.00" y2="351.87" stroke="#000" stroke-width="1"/>
<text x="209.40" y="354.67" font-size="7.9" fill="#231f20" stroke="#231f20" stroke-width="0.13" textLength="8.60" lengthAdjust="spacingAndGlyphs">40</text>
<line x1="219.80" y1="321.10" x2="223.00" y2="321.10" stroke="#000" stroke-width="1"/>
<text x="209.40" y="323.90" font-size="7.9" fill="#231f20" stroke="#231f20" stroke-width="0.13" textLength="8.60" lengthAdjust="spacingAndGlyphs">60</text>
<line x1="247.70" y1="413.40" x2="247.70" y2="416.40" stroke="#000" stroke-width="1"/>
<line x1="303.40" y1="413.40" x2="303.40" y2="416.40" stroke="#000" stroke-width="1"/>
<text x="0.00" y="0.00" font-size="9.0" fill="#231f20" stroke="#231f20" stroke-width="0.13" text-anchor="middle" textLength="36.20" lengthAdjust="spacingAndGlyphs" transform="translate(200.1,366.9) rotate(-90)">Percentage</text>
<text x="237.50" y="426.70" font-size="8.3" fill="#231f20" stroke="#231f20" stroke-width="0.13" textLength="20.50" lengthAdjust="spacingAndGlyphs">Blood</text>
<text x="279.80" y="426.70" font-size="8.3" fill="#231f20" stroke="#231f20" stroke-width="0.13" textLength="47.60" lengthAdjust="spacingAndGlyphs">Bone marrow</text>
<rect x="228.85" y="381.85" width="7.90" height="31.55" fill="#eaa5ae" stroke="#e08f9b" stroke-width="0.7"/>
<rect x="259.25" y="390.35" width="7.90" height="23.05" fill="#acdeac" stroke="#98d498" stroke-width="0.7"/>
<rect x="284.65" y="404.75" width="8.00" height="8.65" fill="#eaa5ae" stroke="#e08f9b" stroke-width="0.7"/>
<rect x="314.35" y="404.75" width="8.60" height="8.65" fill="#acdeac" stroke="#98d498" stroke-width="0.7"/>
<rect x="244.50" y="412.00" width="7.00" height="1.40" fill="#88abcb"/>
<rect x="300.00" y="411.60" width="7.00" height="1.80" fill="#88abcb"/>
<circle cx="232.60" cy="331.50" r="1.65" fill="#c8102e"/>
<circle cx="232.60" cy="351.30" r="1.65" fill="#c8102e"/>
<circle cx="229.00" cy="375.00" r="1.65" fill="#c8102e"/>
<circle cx="236.40" cy="375.00" r="1.65" fill="#c8102e"/>
<circle cx="232.60" cy="378.80" r="1.65" fill="#c8102e"/>
<circle cx="232.60" cy="384.00" r="1.65" fill="#c8102e"/>
<circle cx="232.60" cy="389.00" r="1.65" fill="#c8102e"/>
<circle cx="232.60" cy="395.70" r="1.65" fill="#c8102e"/>
<circle cx="229.00" cy="411.50" r="1.65" fill="#c8102e"/>
<circle cx="236.40" cy="411.50" r="1.65" fill="#c8102e"/>
<circle cx="244.00" cy="411.00" r="1.65" fill="#0f4c86"/>
<circle cx="246.50" cy="412.00" r="1.65" fill="#0f4c86"/>
<circle cx="249.00" cy="411.50" r="1.65" fill="#0f4c86"/>
<circle cx="251.50" cy="412.00" r="1.65" fill="#0f4c86"/>
<circle cx="247.70" cy="410.50" r="1.65" fill="#0f4c86"/>
<circle cx="263.00" cy="335.60" r="1.65" fill="#3db54a"/>
<circle cx="263.00" cy="348.90" r="1.65" fill="#3db54a"/>
<circle cx="263.00" cy="373.20" r="1.65" fill="#3db54a"/>
<circle cx="266.80" cy="377.70" r="1.65" fill="#3db54a"/>
<circle cx="263.00" cy="383.30" r="1.65" fill="#3db54a"/>
<circle cx="263.00" cy="395.70" r="1.65" fill="#3db54a"/>
<circle cx="258.90" cy="403.10" r="1.65" fill="#3db54a"/>
<circle cx="261.20" cy="403.60" r="1.65" fill="#3db54a"/>
<circle cx="265.00" cy="403.60" r="1.65" fill="#3db54a"/>
<circle cx="266.80" cy="403.10" r="1.65" fill="#3db54a"/>
<circle cx="288.40" cy="369.20" r="1.65" fill="#c8102e"/>
<circle cx="288.40" cy="371.50" r="1.65" fill="#c8102e"/>
<circle cx="288.40" cy="385.00" r="1.65" fill="#c8102e"/>
<circle cx="288.40" cy="395.70" r="1.65" fill="#c8102e"/>
<circle cx="286.90" cy="404.40" r="1.65" fill="#c8102e"/>
<circle cx="290.00" cy="403.70" r="1.65" fill="#c8102e"/>
<circle cx="285.40" cy="412.40" r="1.65" fill="#c8102e"/>
<circle cx="291.50" cy="412.40" r="1.65" fill="#c8102e"/>
<circle cx="288.40" cy="412.10" r="1.65" fill="#c8102e"/>
<circle cx="303.30" cy="406.70" r="1.65" fill="#0f4c86"/>
<circle cx="301.50" cy="409.80" r="1.65" fill="#0f4c86"/>
<circle cx="305.30" cy="409.80" r="1.65" fill="#0f4c86"/>
<circle cx="300.00" cy="412.10" r="1.65" fill="#0f4c86"/>
<circle cx="303.00" cy="412.10" r="1.65" fill="#0f4c86"/>
<circle cx="306.80" cy="412.10" r="1.65" fill="#0f4c86"/>
<circle cx="318.70" cy="386.50" r="1.65" fill="#3db54a"/>
<circle cx="316.80" cy="395.20" r="1.65" fill="#3db54a"/>
<circle cx="320.20" cy="397.50" r="1.65" fill="#3db54a"/>
<circle cx="317.60" cy="399.80" r="1.65" fill="#3db54a"/>
<circle cx="319.90" cy="402.90" r="1.65" fill="#3db54a"/>
<circle cx="316.00" cy="406.70" r="1.65" fill="#3db54a"/>
<circle cx="321.40" cy="409.50" r="1.65" fill="#3db54a"/>
<circle cx="316.00" cy="411.30" r="1.65" fill="#3db54a"/>
<circle cx="319.60" cy="411.30" r="1.65" fill="#3db54a"/>
<circle cx="322.60" cy="410.60" r="1.65" fill="#3db54a"/>
<line x1="232.60" y1="368.70" x2="232.60" y2="405.40" stroke="#000" stroke-width="1.5"/>
<line x1="229.60" y1="368.70" x2="235.60" y2="368.70" stroke="#000" stroke-width="1.5"/>
<line x1="229.60" y1="405.40" x2="235.60" y2="405.40" stroke="#000" stroke-width="1.5"/>
<line x1="263.00" y1="366.90" x2="263.00" y2="403.60" stroke="#000" stroke-width="1.5"/>
<line x1="260.00" y1="366.90" x2="266.00" y2="366.90" stroke="#000" stroke-width="1.5"/>
<line x1="260.00" y1="403.60" x2="266.00" y2="403.60" stroke="#000" stroke-width="1.5"/>
<line x1="288.40" y1="390.20" x2="288.40" y2="412.00" stroke="#000" stroke-width="1.5"/>
<line x1="285.40" y1="390.20" x2="291.40" y2="390.20" stroke="#000" stroke-width="1.5"/>
<line x1="285.40" y1="412.00" x2="291.40" y2="412.00" stroke="#000" stroke-width="1.5"/>
<line x1="318.70" y1="397.90" x2="318.70" y2="412.00" stroke="#000" stroke-width="1.5"/>
<line x1="315.70" y1="397.90" x2="321.70" y2="397.90" stroke="#000" stroke-width="1.5"/>
<line x1="315.70" y1="412.00" x2="321.70" y2="412.00" stroke="#000" stroke-width="1.5"/>
<line x1="233.50" y1="325.20" x2="249.90" y2="325.20" stroke="#000" stroke-width="1"/>
<path d="M239.70,319.90L239.70,322.90M238.40,320.65L241.00,322.15M238.40,322.15L241.00,320.65M243.10,319.90L243.10,322.90M241.80,320.65L244.40,322.15M241.80,322.15L244.40,320.65" stroke="#231f20" stroke-width="1.0" fill="none"/>
<line x1="288.40" y1="363.50" x2="304.80" y2="363.50" stroke="#000" stroke-width="1"/>
<path d="M296.90,355.90L296.90,358.90M295.60,356.65L298.20,358.15M295.60,358.15L298.20,356.65" stroke="#231f20" stroke-width="1.0" fill="none"/>
<circle cx="274.70" cy="320.80" r="3.5" fill="#c8102e"/>
<circle cx="274.70" cy="331.00" r="3.5" fill="#0f4c86"/>
<circle cx="274.70" cy="340.90" r="3.5" fill="#3db54a"/>
<text x="282.40" y="323.90" font-size="7.6" fill="#231f20" stroke="#231f20" stroke-width="0.13" textLength="24.00" lengthAdjust="spacingAndGlyphs">Isotype</text>
<text x="282.40" y="334.20" font-size="7.6" fill="#2f6da8" stroke="#2f6da8" stroke-width="0.13" textLength="42.30" lengthAdjust="spacingAndGlyphs">7C6-mIgG2a</text>
<text x="282.40" y="344.30" font-size="7.6" fill="#3db54a" stroke="#3db54a" stroke-width="0.13" textLength="37.50" lengthAdjust="spacingAndGlyphs">7C6-DANA</text>
<line x1="387.90" y1="321.10" x2="387.90" y2="413.80" stroke="#000" stroke-width="1.1"/>
<line x1="387.40" y1="413.30" x2="495.00" y2="413.30" stroke="#000" stroke-width="1.1"/>
<line x1="384.90" y1="413.30" x2="387.90" y2="413.30" stroke="#000" stroke-width="1"/>
<text x="370.30" y="415.90" font-size="7.7" fill="#231f20" stroke="#231f20" stroke-width="0.13" textLength="8.20" lengthAdjust="spacingAndGlyphs">10</text>
<text x="378.60" y="412.00" font-size="5.6" fill="#231f20" stroke="#231f20" stroke-width="0.13" textLength="3.50" lengthAdjust="spacingAndGlyphs">1</text>
<line x1="384.90" y1="400.20" x2="387.90" y2="400.20" stroke="#000" stroke-width="1"/>
<text x="370.30" y="402.80" font-size="7.7" fill="#231f20" stroke="#231f20" stroke-width="0.13" textLength="8.20" lengthAdjust="spacingAndGlyphs">10</text>
<text x="378.60" y="398.90" font-size="5.6" fill="#231f20" stroke="#231f20" stroke-width="0.13" textLength="3.50" lengthAdjust="spacingAndGlyphs">2</text>
<line x1="384.90" y1="387.10" x2="387.90" y2="387.10" stroke="#000" stroke-width="1"/>
<text x="370.30" y="389.70" font-size="7.7" fill="#231f20" stroke="#231f20" stroke-width="0.13" textLength="8.20" lengthAdjust="spacingAndGlyphs">10</text>
<text x="378.60" y="385.80" font-size="5.6" fill="#231f20" stroke="#231f20" stroke-width="0.13" textLength="3.50" lengthAdjust="spacingAndGlyphs">3</text>
<line x1="384.90" y1="374.00" x2="387.90" y2="374.00" stroke="#000" stroke-width="1"/>
<text x="370.30" y="376.60" font-size="7.7" fill="#231f20" stroke="#231f20" stroke-width="0.13" textLength="8.20" lengthAdjust="spacingAndGlyphs">10</text>
<text x="378.60" y="372.70" font-size="5.6" fill="#231f20" stroke="#231f20" stroke-width="0.13" textLength="3.50" lengthAdjust="spacingAndGlyphs">4</text>
<line x1="384.90" y1="360.90" x2="387.90" y2="360.90" stroke="#000" stroke-width="1"/>
<text x="370.30" y="363.50" font-size="7.7" fill="#231f20" stroke="#231f20" stroke-width="0.13" textLength="8.20" lengthAdjust="spacingAndGlyphs">10</text>
<text x="378.60" y="359.60" font-size="5.6" fill="#231f20" stroke="#231f20" stroke-width="0.13" textLength="3.50" lengthAdjust="spacingAndGlyphs">5</text>
<line x1="384.90" y1="347.80" x2="387.90" y2="347.80" stroke="#000" stroke-width="1"/>
<text x="370.30" y="350.40" font-size="7.7" fill="#231f20" stroke="#231f20" stroke-width="0.13" textLength="8.20" lengthAdjust="spacingAndGlyphs">10</text>
<text x="378.60" y="346.50" font-size="5.6" fill="#231f20" stroke="#231f20" stroke-width="0.13" textLength="3.50" lengthAdjust="spacingAndGlyphs">6</text>
<line x1="384.90" y1="334.70" x2="387.90" y2="334.70" stroke="#000" stroke-width="1"/>
<text x="370.30" y="337.30" font-size="7.7" fill="#231f20" stroke="#231f20" stroke-width="0.13" textLength="8.20" lengthAdjust="spacingAndGlyphs">10</text>
<text x="378.60" y="333.40" font-size="5.6" fill="#231f20" stroke="#231f20" stroke-width="0.13" textLength="3.50" lengthAdjust="spacingAndGlyphs">7</text>
<line x1="384.90" y1="321.60" x2="387.90" y2="321.60" stroke="#000" stroke-width="1"/>
<text x="370.30" y="324.20" font-size="7.7" fill="#231f20" stroke="#231f20" stroke-width="0.13" textLength="8.20" lengthAdjust="spacingAndGlyphs">10</text>
<text x="378.60" y="320.30" font-size="5.6" fill="#231f20" stroke="#231f20" stroke-width="0.13" textLength="3.50" lengthAdjust="spacingAndGlyphs">8</text>
<line x1="413.30" y1="413.30" x2="413.30" y2="416.30" stroke="#000" stroke-width="1"/>
<line x1="468.70" y1="413.30" x2="468.70" y2="416.30" stroke="#000" stroke-width="1"/>
<text x="0.00" y="0.00" font-size="8.3" fill="#231f20" stroke="#231f20" stroke-width="0.13" text-anchor="middle" textLength="63.30" lengthAdjust="spacingAndGlyphs" transform="translate(351.6,366.7) rotate(-90)">AML cells per mL of</text>
<text x="0.00" y="0.00" font-size="8.3" fill="#231f20" stroke="#231f20" stroke-width="0.13" text-anchor="middle" textLength="62.50" lengthAdjust="spacingAndGlyphs" transform="translate(360.0,368.0) rotate(-90)">blood or per femur</text>
<text x="403.10" y="426.70" font-size="8.3" fill="#231f20" stroke="#231f20" stroke-width="0.13" textLength="20.70" lengthAdjust="spacingAndGlyphs">Blood</text>
<text x="445.40" y="426.70" font-size="8.3" fill="#231f20" stroke="#231f20" stroke-width="0.13" textLength="47.60" lengthAdjust="spacingAndGlyphs">Bone marrow</text>
<rect x="394.65" y="347.35" width="7.70" height="65.95" fill="#de8692" stroke="#d77383" stroke-width="0.7"/>
<rect x="409.55" y="368.95" width="7.80" height="44.35" fill="#88abcb" stroke="#7a9fc2" stroke-width="0.7"/>
<rect x="425.25" y="350.95" width="7.40" height="62.35" fill="#97d897" stroke="#86cf86" stroke-width="0.7"/>
<rect x="449.35" y="354.65" width="8.30" height="58.65" fill="#de8692" stroke="#d77383" stroke-width="0.7"/>
<rect x="465.05" y="366.35" width="8.30" height="46.95" fill="#88abcb" stroke="#7a9fc2" stroke-width="0.7"/>
<rect x="480.35" y="355.55" width="8.30" height="57.75" fill="#97d897" stroke="#86cf86" stroke-width="0.7"/>
<circle cx="398.40" cy="337.10" r="1.7" fill="#c8102e"/>
<circle cx="394.30" cy="341.20" r="1.7" fill="#c8102e"/>
<circle cx="402.00" cy="341.20" r="1.7" fill="#c8102e"/>
<circle cx="396.10" cy="347.00" r="1.7" fill="#c8102e"/>
<circle cx="400.90" cy="347.00" r="1.7" fill="#c8102e"/>
<circle cx="394.30" cy="356.00" r="1.7" fill="#c8102e"/>
<circle cx="397.90" cy="356.90" r="1.7" fill="#c8102e"/>
<circle cx="402.00" cy="356.00" r="1.7" fill="#c8102e"/>
<circle cx="398.40" cy="366.40" r="1.7" fill="#c8102e"/>
<circle cx="413.50" cy="358.10" r="1.7" fill="#0f4c86"/>
<circle cx="411.40" cy="362.30" r="1.7" fill="#0f4c86"/>
<circle cx="415.90" cy="362.60" r="1.7" fill="#0f4c86"/>
<circle cx="409.90" cy="367.10" r="1.7" fill="#0f4c86"/>
<circle cx="413.50" cy="369.50" r="1.7" fill="#0f4c86"/>
<circle cx="410.50" cy="372.20" r="1.7" fill="#0f4c86"/>
<circle cx="415.00" cy="373.10" r="1.7" fill="#0f4c86"/>
<circle cx="417.70" cy="374.30" r="1.7" fill="#0f4c86"/>
<circle cx="409.90" cy="376.10" r="1.7" fill="#0f4c86"/>
<circle cx="424.90" cy="338.00" r="1.7" fill="#3db54a"/>
<circle cx="429.70" cy="339.40" r="1.7" fill="#3db54a"/>
<circle cx="432.60" cy="335.80" r="1.7" fill="#3db54a"/>
<circle cx="424.90" cy="341.60" r="1.7" fill="#3db54a"/>
<circle cx="432.10" cy="347.30" r="1.7" fill="#3db54a"/>
<circle cx="425.80" cy="350.60" r="1.7" fill="#3db54a"/>
<circle cx="428.50" cy="351.50" r="1.7" fill="#3db54a"/>
<circle cx="431.20" cy="352.40" r="1.7" fill="#3db54a"/>
<circle cx="426.70" cy="356.90" r="1.7" fill="#3db54a"/>
<circle cx="450.30" cy="348.00" r="1.7" fill="#c8102e"/>
<circle cx="453.90" cy="348.90" r="1.7" fill="#c8102e"/>
<circle cx="457.50" cy="348.00" r="1.7" fill="#c8102e"/>
<circle cx="453.90" cy="353.00" r="1.7" fill="#c8102e"/>
<circle cx="453.90" cy="357.90" r="1.7" fill="#c8102e"/>
<circle cx="453.90" cy="363.30" r="1.7" fill="#c8102e"/>
<circle cx="452.60" cy="373.20" r="1.7" fill="#c8102e"/>
<circle cx="456.20" cy="373.20" r="1.7" fill="#c8102e"/>
<circle cx="453.90" cy="378.20" r="1.7" fill="#c8102e"/>
<circle cx="453.90" cy="384.90" r="1.7" fill="#c8102e"/>
<circle cx="465.60" cy="358.40" r="1.7" fill="#0f4c86"/>
<circle cx="469.20" cy="358.40" r="1.7" fill="#0f4c86"/>
<circle cx="472.80" cy="358.40" r="1.7" fill="#0f4c86"/>
<circle cx="465.60" cy="363.30" r="1.7" fill="#0f4c86"/>
<circle cx="472.80" cy="365.10" r="1.7" fill="#0f4c86"/>
<circle cx="469.20" cy="373.20" r="1.7" fill="#0f4c86"/>
<circle cx="469.20" cy="377.10" r="1.7" fill="#0f4c86"/>
<circle cx="469.20" cy="384.00" r="1.7" fill="#0f4c86"/>
<circle cx="469.20" cy="394.40" r="1.7" fill="#0f4c86"/>
<circle cx="484.50" cy="347.10" r="1.7" fill="#3db54a"/>
<circle cx="480.90" cy="351.20" r="1.7" fill="#3db54a"/>
<circle cx="487.20" cy="350.70" r="1.7" fill="#3db54a"/>
<circle cx="480.90" cy="354.80" r="1.7" fill="#3db54a"/>
<circle cx="488.10" cy="354.30" r="1.7" fill="#3db54a"/>
<circle cx="482.70" cy="357.30" r="1.7" fill="#3db54a"/>
<circle cx="485.70" cy="358.40" r="1.7" fill="#3db54a"/>
<circle cx="483.60" cy="360.20" r="1.7" fill="#3db54a"/>
<circle cx="480.90" cy="358.40" r="1.7" fill="#3db54a"/>
<line x1="398.40" y1="341.20" x2="398.40" y2="356.00" stroke="#000" stroke-width="1.4"/>
<line x1="395.80" y1="341.20" x2="401.00" y2="341.20" stroke="#000" stroke-width="1.4"/>
<line x1="395.80" y1="356.00" x2="401.00" y2="356.00" stroke="#000" stroke-width="1.4"/>
<line x1="413.50" y1="362.80" x2="413.50" y2="374.00" stroke="#000" stroke-width="1.4"/>
<line x1="410.90" y1="362.80" x2="416.10" y2="362.80" stroke="#000" stroke-width="1.4"/>
<line x1="410.90" y1="374.00" x2="416.10" y2="374.00" stroke="#000" stroke-width="1.4"/>
<line x1="429.00" y1="338.90" x2="429.00" y2="351.50" stroke="#000" stroke-width="1.4"/>
<line x1="426.40" y1="338.90" x2="431.60" y2="338.90" stroke="#000" stroke-width="1.4"/>
<line x1="426.40" y1="351.50" x2="431.60" y2="351.50" stroke="#000" stroke-width="1.4"/>
<line x1="453.90" y1="348.00" x2="453.90" y2="373.20" stroke="#000" stroke-width="1.4"/>
<line x1="451.30" y1="348.00" x2="456.50" y2="348.00" stroke="#000" stroke-width="1.4"/>
<line x1="451.30" y1="373.20" x2="456.50" y2="373.20" stroke="#000" stroke-width="1.4"/>
<line x1="469.20" y1="358.40" x2="469.20" y2="380.70" stroke="#000" stroke-width="1.4"/>
<line x1="466.60" y1="358.40" x2="471.80" y2="358.40" stroke="#000" stroke-width="1.4"/>
<line x1="466.60" y1="380.70" x2="471.80" y2="380.70" stroke="#000" stroke-width="1.4"/>
<line x1="484.50" y1="349.80" x2="484.50" y2="358.80" stroke="#000" stroke-width="1.4"/>
<line x1="481.90" y1="349.80" x2="487.10" y2="349.80" stroke="#000" stroke-width="1.4"/>
<line x1="481.90" y1="358.80" x2="487.10" y2="358.80" stroke="#000" stroke-width="1.4"/>
<line x1="398.40" y1="333.50" x2="415.00" y2="333.50" stroke="#000" stroke-width="1"/>
<path d="M403.10,329.30L403.10,332.30M401.80,330.05L404.40,331.55M401.80,331.55L404.40,330.05M406.50,329.30L406.50,332.30M405.20,330.05L407.80,331.55M405.20,331.55L407.80,330.05M409.90,329.30L409.90,332.30M408.60,330.05L411.20,331.55M408.60,331.55L411.20,330.05" stroke="#231f20" stroke-width="1.0" fill="none"/>
<line x1="453.40" y1="344.00" x2="472.80" y2="344.00" stroke="#000" stroke-width="1"/>
<text x="450.8" y="341.2" font-size="8.6" fill="#231f20" textLength="29.5" lengthAdjust="spacingAndGlyphs"><tspan font-style="italic">p</tspan>=0.06</text>
</g>
<rect x="0.6" y="0.6" width="518.8" height="442.8" fill="none" stroke="#000" stroke-width="1.3"/>
</svg>
</body></html>
